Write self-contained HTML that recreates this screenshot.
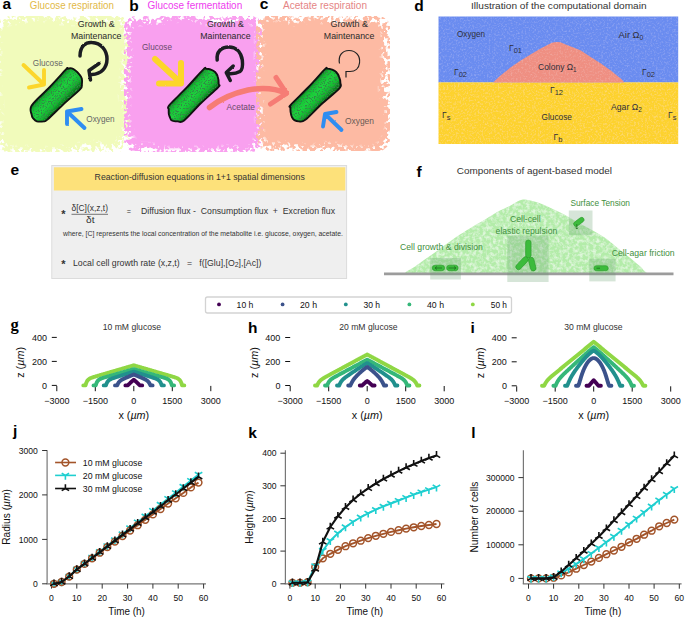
<!DOCTYPE html>
<html><head><meta charset="utf-8"><style>
html,body{margin:0;padding:0;background:#fff;overflow:hidden;width:685px;height:617px;}
svg{display:block;font-family:"Liberation Sans", sans-serif;}
</style></head><body>
<svg width="685" height="617" viewBox="0 0 685 617">
<rect width="685" height="617" fill="#fff"/>
<defs>
<linearGradient id="cellg2" x1="0.36" y1="0.36" x2="0.64" y2="0.64">
 <stop offset="0" stop-color="#0b7d1e"/><stop offset="0.2" stop-color="#17c034"/><stop offset="0.5" stop-color="#1dd23d"/><stop offset="0.8" stop-color="#15b930"/><stop offset="1" stop-color="#0a7a1c"/>
</linearGradient>
<linearGradient id="cellg" x1="0" y1="0" x2="0" y2="1">
 <stop offset="0" stop-color="#0a7a1c"/><stop offset="0.25" stop-color="#14b42e"/><stop offset="0.5" stop-color="#19c636"/><stop offset="0.75" stop-color="#12ad2b"/><stop offset="1" stop-color="#09721a"/>
</linearGradient>
<filter id="stip" x="-10%" y="-10%" width="120%" height="120%">
 <feTurbulence type="fractalNoise" baseFrequency="0.7" numOctaves="2" seed="7" result="n"/>
 <feColorMatrix in="n" type="matrix" values="0 0 0 0 0.03  0 0 0 0 0.25  0 0 0 0 0.06  -7 0 0 0 3.45" result="d"/>
 <feComposite in="d" in2="SourceAlpha" operator="in" result="dd"/>
 <feMerge><feMergeNode in="SourceGraphic"/><feMergeNode in="dd"/></feMerge>
</filter>
<filter id="mottle" x="0" y="0" width="100%" height="100%">
 <feTurbulence type="fractalNoise" baseFrequency="0.3" numOctaves="3" seed="13" result="n"/>
 <feColorMatrix in="n" type="matrix" values="0 0 0 0 1  0 0 0 0 1  0 0 0 0 1  2.6 0 0 0 -1.05" result="m"/>
 <feComponentTransfer in="m" result="m2"><feFuncA type="linear" slope="0.55"/></feComponentTransfer>
 <feComposite in="m2" in2="SourceGraphic" operator="in" result="w"/>
 <feMerge><feMergeNode in="SourceGraphic"/><feMergeNode in="w"/></feMerge>
</filter>
<filter id="sprayA" x="-10%" y="-10%" width="120%" height="120%">
 <feTurbulence type="fractalNoise" baseFrequency="0.05" numOctaves="2" seed="4" result="low"/>
 <feDisplacementMap in="SourceAlpha" in2="low" scale="16" xChannelSelector="R" yChannelSelector="G" result="d"/>
 <feGaussianBlur in="d" stdDeviation="7.5" result="b"/>
 <feTurbulence type="fractalNoise" baseFrequency="0.25" numOctaves="3" seed="3" result="n"/>
 <feColorMatrix in="n" type="matrix" values="0 0 0 0 0  0 0 0 0 0  0 0 0 0 0  3.5 0 0 0 -1.2" result="na"/>
 <feComposite in="b" in2="na" operator="arithmetic" k1="0" k2="1" k3="-0.55" k4="0" result="c"/>
 <feComponentTransfer in="c" result="m"><feFuncA type="linear" slope="5" intercept="-0.8"/></feComponentTransfer>
 <feComposite in="SourceGraphic" in2="m" operator="in"/>
</filter>
<filter id="sprayB" x="-10%" y="-10%" width="120%" height="120%">
 <feTurbulence type="fractalNoise" baseFrequency="0.05" numOctaves="2" seed="12" result="low"/>
 <feDisplacementMap in="SourceAlpha" in2="low" scale="16" xChannelSelector="R" yChannelSelector="G" result="d"/>
 <feGaussianBlur in="d" stdDeviation="7.5" result="b"/>
 <feTurbulence type="fractalNoise" baseFrequency="0.25" numOctaves="3" seed="11" result="n"/>
 <feColorMatrix in="n" type="matrix" values="0 0 0 0 0  0 0 0 0 0  0 0 0 0 0  3.5 0 0 0 -1.2" result="na"/>
 <feComposite in="b" in2="na" operator="arithmetic" k1="0" k2="1" k3="-0.55" k4="0" result="c"/>
 <feComponentTransfer in="c" result="m"><feFuncA type="linear" slope="5" intercept="-0.8"/></feComponentTransfer>
 <feComposite in="SourceGraphic" in2="m" operator="in"/>
</filter>
<filter id="sprayC" x="-10%" y="-10%" width="120%" height="120%">
 <feTurbulence type="fractalNoise" baseFrequency="0.05" numOctaves="2" seed="22" result="low"/>
 <feDisplacementMap in="SourceAlpha" in2="low" scale="16" xChannelSelector="R" yChannelSelector="G" result="d"/>
 <feGaussianBlur in="d" stdDeviation="7.5" result="b"/>
 <feTurbulence type="fractalNoise" baseFrequency="0.25" numOctaves="3" seed="21" result="n"/>
 <feColorMatrix in="n" type="matrix" values="0 0 0 0 0  0 0 0 0 0  0 0 0 0 0  3.5 0 0 0 -1.2" result="na"/>
 <feComposite in="b" in2="na" operator="arithmetic" k1="0" k2="1" k3="-0.55" k4="0" result="c"/>
 <feComponentTransfer in="c" result="m"><feFuncA type="linear" slope="5" intercept="-0.8"/></feComponentTransfer>
 <feComposite in="SourceGraphic" in2="m" operator="in"/>
</filter>
<filter id="rough" x="-10%" y="-10%" width="120%" height="120%">
 <feTurbulence type="fractalNoise" baseFrequency="0.18" numOctaves="3" seed="4" result="n"/>
 <feDisplacementMap in="SourceGraphic" in2="n" scale="9" xChannelSelector="R" yChannelSelector="G"/>
</filter>
<filter id="rough2" x="-10%" y="-10%" width="120%" height="120%">
 <feTurbulence type="fractalNoise" baseFrequency="0.22" numOctaves="3" seed="9" result="n"/>
 <feDisplacementMap in="SourceGraphic" in2="n" scale="10" xChannelSelector="R" yChannelSelector="G"/>
</filter>
<filter id="rough3" x="-10%" y="-10%" width="120%" height="120%">
 <feTurbulence type="fractalNoise" baseFrequency="0.2" numOctaves="3" seed="17" result="n"/>
 <feDisplacementMap in="SourceGraphic" in2="n" scale="10" xChannelSelector="R" yChannelSelector="G"/>
</filter>
<filter id="brush" x="-20%" y="-20%" width="140%" height="140%">
 <feTurbulence type="fractalNoise" baseFrequency="0.6" numOctaves="2" seed="2" result="n"/>
 <feDisplacementMap in="SourceGraphic" in2="n" scale="1.6" xChannelSelector="R" yChannelSelector="G"/>
</filter>
<filter id="speck" x="0" y="0" width="100%" height="100%">
 <feTurbulence type="fractalNoise" baseFrequency="0.55" numOctaves="2" seed="5" result="n"/>
 <feColorMatrix in="n" type="matrix" values="0 0 0 0 1  0 0 0 0 1  0 0 0 0 1  0 0 0 -2.5 1.3" result="m"/>
 <feComponentTransfer in="m" result="m2"><feFuncA type="linear" slope="0.16"/></feComponentTransfer>
 <feComposite in="m2" in2="SourceGraphic" operator="in" result="w"/>
 <feMerge><feMergeNode in="SourceGraphic"/><feMergeNode in="w"/></feMerge>
</filter>
</defs>
<rect x="-4" y="16" width="134" height="136" rx="12" fill="#f1fbbb" filter="url(#sprayA)"/>
<rect x="124" y="16" width="139" height="136" rx="12" fill="#f9a0ef" filter="url(#sprayB)"/>
<rect x="256" y="16" width="134" height="135" rx="12" fill="#fdbaa3" filter="url(#sprayC)"/>
<text x="2.5" y="9.4" font-size="15.5" font-weight="700" fill="#000">a</text>
<text x="29.8" y="8.9" font-size="10.3" fill="#e2b947" font-weight="400" textLength="84.2" lengthAdjust="spacingAndGlyphs" >Glucose respiration</text>
<text x="129.3" y="11.1" font-size="15.5" font-weight="700" fill="#000">b</text>
<text x="147.6" y="8.9" font-size="10.3" fill="#ee3cee" font-weight="400" textLength="94.6" lengthAdjust="spacingAndGlyphs" >Glucose fermentation</text>
<text x="259.8" y="9.4" font-size="15.5" font-weight="700" fill="#000">c</text>
<text x="283.0" y="8.9" font-size="10.3" fill="#e58585" font-weight="400" textLength="84.0" lengthAdjust="spacingAndGlyphs" >Acetate respiration</text>
<text x="414.3" y="11.4" font-size="15.5" font-weight="700" fill="#000">d</text>
<text x="471.0" y="9.0" font-size="9.5" fill="#333" font-weight="400" textLength="175.6" lengthAdjust="spacingAndGlyphs" >Illustration of the computational domain</text>
<text x="77.8" y="27.3" font-size="9" fill="#2a2a2a" font-weight="400" textLength="36.9" lengthAdjust="spacingAndGlyphs" >Growth &amp;</text>
<text x="71.0" y="39.2" font-size="9" fill="#2a2a2a" font-weight="400" textLength="50.5" lengthAdjust="spacingAndGlyphs" >Maintenance</text>
<text x="32.8" y="65.6" font-size="9" fill="#666" font-weight="400" textLength="30.0" lengthAdjust="spacingAndGlyphs" >Glucose</text>
<text x="86.3" y="122.2" font-size="9" fill="#666" font-weight="400" textLength="28.3" lengthAdjust="spacingAndGlyphs" >Oxygen</text>
<path d="M67.0,68.7 C68.0,68.5 70.4,68.1 71.8,68.4 C73.2,68.8 74.1,69.5 75.4,70.6 C76.8,71.6 78.6,73.5 79.7,74.8 C80.8,76.2 81.4,77.0 81.8,78.5 C82.2,80.1 82.2,82.4 81.9,84.3 C81.6,86.1 83.0,86.1 80.0,89.4 C76.9,92.7 69.0,99.1 63.6,104.1 C58.2,109.2 50.7,116.8 47.4,119.6 C44.1,122.5 45.7,121.1 43.9,121.4 C42.2,121.6 38.6,121.8 36.8,121.3 C35.0,120.8 34.0,119.3 33.2,118.3 C32.4,117.3 32.1,117.4 31.8,115.3 C31.6,113.2 28.8,110.2 31.7,105.5 C34.6,100.9 43.6,93.5 49.3,87.5 C55.0,81.5 63.1,72.5 66.0,69.4 C69.0,66.3 66.0,68.9 67.0,68.7 Z" fill="url(#cellg2)" filter="url(#stip)"/>
<path d="M67.0,68.7 C68.0,68.5 70.4,68.1 71.8,68.4 C73.2,68.8 74.1,69.5 75.4,70.6 C76.8,71.6 78.6,73.5 79.7,74.8 C80.8,76.2 81.4,77.0 81.8,78.5 C82.2,80.1 82.2,82.4 81.9,84.3 C81.6,86.1 83.0,86.1 80.0,89.4 C76.9,92.7 69.0,99.1 63.6,104.1 C58.2,109.2 50.7,116.8 47.4,119.6 C44.1,122.5 45.7,121.1 43.9,121.4 C42.2,121.6 38.6,121.8 36.8,121.3 C35.0,120.8 34.0,119.3 33.2,118.3 C32.4,117.3 32.1,117.4 31.8,115.3 C31.6,113.2 28.8,110.2 31.7,105.5 C34.6,100.9 43.6,93.5 49.3,87.5 C55.0,81.5 63.1,72.5 66.0,69.4 C69.0,66.3 66.0,68.9 67.0,68.7 Z" fill="none" stroke="#111" stroke-width="1.9" stroke-linejoin="round"/>
<g stroke="#fcd62a" stroke-width="3.9" fill="none" stroke-linecap="round" stroke-linejoin="round" filter="url(#brush)"><path d="M23.5,65 L44,84.5 M44,70 L44,84.5 L29,87.5"/></g>
<g stroke="#2f8df2" stroke-width="3.9" fill="none" stroke-linecap="round" stroke-linejoin="round" filter="url(#brush)"><path d="M84.5,128 L67,111.5 M81.5,109 L67,111.5 L67,124"/></g>
<g stroke="#1a1f22" stroke-width="3.5" fill="none" stroke-linecap="round" stroke-linejoin="round" filter="url(#brush)"><path d="M80,56 C80,46 86,42 92,42.5 C101,43 107,50 107,59 C107,68 101,74 92,74.5 M99,63.5 L89,70.5 L90.5,80"/></g>
<text x="142.0" y="50.2" font-size="9" fill="#6a4a6a" font-weight="400" textLength="30.0" lengthAdjust="spacingAndGlyphs" >Glucose</text>
<text x="207.0" y="26.8" font-size="9" fill="#2a2a2a" font-weight="400" textLength="36.8" lengthAdjust="spacingAndGlyphs" >Growth &amp;</text>
<text x="200.3" y="39.2" font-size="9" fill="#2a2a2a" font-weight="400" textLength="50.3" lengthAdjust="spacingAndGlyphs" >Maintenance</text>
<text x="226.5" y="110.0" font-size="9" fill="#6a4a6a" font-weight="400" textLength="28.5" lengthAdjust="spacingAndGlyphs" >Acetate</text>
<path d="M206.1,68.8 C207.4,68.8 209.5,69.0 211.0,69.6 C212.4,70.1 213.8,70.8 215.0,72.0 C216.1,73.2 217.1,74.5 217.7,76.6 C218.4,78.6 218.7,82.4 218.7,84.2 C218.8,86.0 221.1,84.1 218.1,87.3 C215.1,90.5 206.5,97.8 200.8,103.3 C195.2,108.8 188.0,117.4 184.1,120.4 C180.2,123.4 179.3,121.3 177.5,121.4 C175.7,121.4 174.2,121.1 173.1,120.8 C172.0,120.4 171.5,120.5 170.8,119.4 C170.2,118.3 169.3,116.1 168.9,114.4 C168.6,112.8 168.7,111.0 168.7,109.4 C168.8,107.9 166.4,108.7 169.4,105.0 C172.4,101.4 180.9,93.7 186.6,87.7 C192.3,81.8 200.1,72.5 203.4,69.4 C206.6,66.2 204.8,68.7 206.1,68.8 Z" fill="url(#cellg2)" filter="url(#stip)"/>
<path d="M206.1,68.8 C207.4,68.8 209.5,69.0 211.0,69.6 C212.4,70.1 213.8,70.8 215.0,72.0 C216.1,73.2 217.1,74.5 217.7,76.6 C218.4,78.6 218.7,82.4 218.7,84.2 C218.8,86.0 221.1,84.1 218.1,87.3 C215.1,90.5 206.5,97.8 200.8,103.3 C195.2,108.8 188.0,117.4 184.1,120.4 C180.2,123.4 179.3,121.3 177.5,121.4 C175.7,121.4 174.2,121.1 173.1,120.8 C172.0,120.4 171.5,120.5 170.8,119.4 C170.2,118.3 169.3,116.1 168.9,114.4 C168.6,112.8 168.7,111.0 168.7,109.4 C168.8,107.9 166.4,108.7 169.4,105.0 C172.4,101.4 180.9,93.7 186.6,87.7 C192.3,81.8 200.1,72.5 203.4,69.4 C206.6,66.2 204.8,68.7 206.1,68.8 Z" fill="none" stroke="#111" stroke-width="1.9" stroke-linejoin="round"/>
<g stroke="#fcd62a" stroke-width="6" fill="none" stroke-linecap="round" stroke-linejoin="round" filter="url(#brush)"><path d="M155,59 L181,83 M181,63 L181,83.5 L159,83.5"/></g>
<g stroke="#1a1f22" stroke-width="3.5" fill="none" stroke-linecap="round" stroke-linejoin="round" filter="url(#brush)"><path d="M217.2,60 C216.2,52 221,46.9 229,46.9 C236,47 241,52 242.3,60 C243,66 242.2,70 239.9,71.6 C236.5,73.6 231.5,74 227.5,73.6 M233.2,66 L226.3,72.6 L230.3,80.5"/></g>
<path d="M209.5,107.5 C220,99 232,93.5 248,90 C260,87.8 274,87.8 286,93.2" stroke="#f67c74" stroke-width="5.5" fill="none" stroke-linecap="round" filter="url(#brush)"/>
<path d="M276,77.5 L286.5,93.4 L270.5,104" stroke="#f67c74" stroke-width="5" fill="none" stroke-linecap="round" stroke-linejoin="round" filter="url(#brush)"/>
<text x="330.5" y="27.1" font-size="9" fill="#2a2a2a" font-weight="400" textLength="37.5" lengthAdjust="spacingAndGlyphs" >Growth &amp;</text>
<text x="323.8" y="39.3" font-size="9" fill="#2a2a2a" font-weight="400" textLength="50.6" lengthAdjust="spacingAndGlyphs" >Maintenance</text>
<text x="344.9" y="124.0" font-size="9" fill="#6a5a55" font-weight="400" textLength="29.1" lengthAdjust="spacingAndGlyphs" >Oxygen</text>
<path d="M327.3,68.6 C328.5,68.6 330.5,69.0 332.0,69.6 C333.4,70.2 334.9,70.8 336.1,72.0 C337.2,73.2 338.3,74.7 339.0,76.6 C339.8,78.4 340.4,81.1 340.4,83.1 C340.5,85.1 342.3,85.2 339.2,88.6 C336.1,92.1 327.5,98.6 321.9,103.8 C316.2,109.0 309.2,116.9 305.3,119.8 C301.5,122.7 300.5,121.3 298.7,121.4 C296.9,121.4 295.5,120.8 294.4,120.1 C293.3,119.4 292.6,118.6 292.0,117.2 C291.3,115.9 290.8,113.6 290.6,112.0 C290.3,110.3 290.4,108.5 290.4,107.3 C290.5,106.1 287.8,108.1 290.8,104.8 C293.7,101.5 302.4,93.4 308.1,87.5 C313.8,81.6 321.6,72.5 324.8,69.4 C328.0,66.2 326.1,68.5 327.3,68.6 Z" fill="url(#cellg2)" filter="url(#stip)"/>
<path d="M327.3,68.6 C328.5,68.6 330.5,69.0 332.0,69.6 C333.4,70.2 334.9,70.8 336.1,72.0 C337.2,73.2 338.3,74.7 339.0,76.6 C339.8,78.4 340.4,81.1 340.4,83.1 C340.5,85.1 342.3,85.2 339.2,88.6 C336.1,92.1 327.5,98.6 321.9,103.8 C316.2,109.0 309.2,116.9 305.3,119.8 C301.5,122.7 300.5,121.3 298.7,121.4 C296.9,121.4 295.5,120.8 294.4,120.1 C293.3,119.4 292.6,118.6 292.0,117.2 C291.3,115.9 290.8,113.6 290.6,112.0 C290.3,110.3 290.4,108.5 290.4,107.3 C290.5,106.1 287.8,108.1 290.8,104.8 C293.7,101.5 302.4,93.4 308.1,87.5 C313.8,81.6 321.6,72.5 324.8,69.4 C328.0,66.2 326.1,68.5 327.3,68.6 Z" fill="none" stroke="#111" stroke-width="1.9" stroke-linejoin="round"/>
<path d="M339.5,63.5 C338,56 342,50.5 349,50.5 C356,50.5 360.5,56 359.5,63 C359,68.5 355,71.5 350,71.5 L346,71.5 L346,77.5" stroke="#222" stroke-width="1.2" fill="none"/>
<g stroke="#2f8df2" stroke-width="3.9" fill="none" stroke-linecap="round" stroke-linejoin="round" filter="url(#brush)"><path d="M341.5,130 L325,114 M336.5,112 L325,114 L323,126.5"/></g>
<g filter="url(#speck)"><rect x="438.5" y="16.5" width="239.7" height="66" fill="#6a8cf0"/><rect x="438.5" y="82.4" width="239.7" height="61.6" fill="#fdd22e"/><path d="M493.2,82.6 L494.1,81.4 L500.2,75.8 L510.4,67.6 L520.7,60.5 L530.9,54.3 L541.1,48.2 L546.5,45.4 L551.3,43.1 L554,42.3 L557.5,41.9 L560.5,42.3 L565,44.2 L570.2,46.2 L580.4,50.3 L590.7,56.9 L600.9,63.5 L611.1,70.7 L617.2,75.8 L621.3,78.9 L624.4,82.6 Z" fill="#ef8f82"/></g>
<text x="457.0" y="37.4" font-size="8.8" fill="#2f2f3a" font-weight="400" textLength="28.1" lengthAdjust="spacingAndGlyphs" >Oxygen</text>
<text x="509" y="50.5" font-size="8.5" fill="#2f2f3a">Γ<tspan dy="2" font-size="7.5">01</tspan></text>
<text x="454" y="74.5" font-size="8.5" fill="#2f2f3a">Γ<tspan dy="2" font-size="7.5">02</tspan></text>
<text x="538" y="69.8" font-size="8.8" fill="#2f2f3a" textLength="38.6" lengthAdjust="spacingAndGlyphs">Colony Ω<tspan dy="2" font-size="6.5">1</tspan></text>
<text x="618.6" y="37.6" font-size="8.8" fill="#2f2f3a" textLength="24.8" lengthAdjust="spacingAndGlyphs">Air Ω<tspan dy="2" font-size="6.5">0</tspan></text>
<text x="642" y="74.5" font-size="8.5" fill="#2f2f3a">Γ<tspan dy="2" font-size="7.5">02</tspan></text>
<text x="550" y="92.5" font-size="8.5" fill="#2f2f3a">Γ<tspan dy="2" font-size="7.5">12</tspan></text>
<text x="611" y="109.5" font-size="8.8" fill="#2f2f3a" textLength="30.7" lengthAdjust="spacingAndGlyphs">Agar Ω<tspan dy="2" font-size="6.5">2</tspan></text>
<text x="541.5" y="120.0" font-size="8.8" fill="#2f2f3a" font-weight="400" textLength="30.5" lengthAdjust="spacingAndGlyphs" >Glucose</text>
<text x="442" y="117.5" font-size="8.5" fill="#2f2f3a">Γ<tspan dy="2" font-size="7.5">s</tspan></text>
<text x="668" y="117.5" font-size="8.5" fill="#2f2f3a">Γ<tspan dy="2" font-size="7.5">s</tspan></text>
<text x="553.5" y="139.5" font-size="8.5" fill="#2f2f3a">Γ<tspan dy="2" font-size="7.5">b</tspan></text>
<text x="10.5" y="175.1" font-size="15.5" font-weight="700" fill="#000">e</text>
<rect x="51.8" y="165.5" width="294.8" height="113" fill="#efefef" stroke="#dcdcdc" stroke-width="1"/>
<rect x="53.9" y="167.3" width="291.4" height="23.2" fill="#fde17a"/>
<text x="94.6" y="180.3" font-size="9" fill="#333" font-weight="400" textLength="210.2" lengthAdjust="spacingAndGlyphs" >Reaction-diffusion equations in 1+1 spatial dimensions</text>
<text x="61.2" y="218.3" font-size="11" font-weight="700" fill="#333">*</text>
<text x="71.5" y="211.3" font-size="8.5" fill="#333" font-weight="400" textLength="36.5" lengthAdjust="spacingAndGlyphs" >δ[C](x,z,t)</text>
<line x1="71.5" y1="214.3" x2="108" y2="214.3" stroke="#555" stroke-width="0.8"/>
<text x="86.0" y="223.2" font-size="8.5" fill="#333" font-weight="400" textLength="8.5" lengthAdjust="spacingAndGlyphs" >δt</text>
<text x="126.8" y="213.5" font-size="8.5" fill="#333" font-weight="400" textLength="4.2" lengthAdjust="spacingAndGlyphs" >=</text>
<text x="141.0" y="213.8" font-size="8.8" fill="#333" font-weight="400" textLength="194.0" lengthAdjust="spacingAndGlyphs" xml:space="preserve">Diffusion flux -&#160; Consumption flux&#160; +&#160; Excretion flux</text>
<text x="63.0" y="236.2" font-size="6.3" fill="#333" font-weight="400" textLength="280.0" lengthAdjust="spacingAndGlyphs" >where, [C] represents the local concentration of the metabolite i.e. glucose, oxygen, acetate.</text>
<text x="61.2" y="268.2" font-size="11" font-weight="700" fill="#333">*</text>
<text x="73.0" y="265.8" font-size="8.8" fill="#333" font-weight="400" textLength="188.4" lengthAdjust="spacingAndGlyphs" >Local cell growth rate (x,z,t)&#160;&#160; =&#160;&#160; f([Glu],[O<tspan dy="1.5" font-size="7">2</tspan><tspan dy="-1.5">],[Ac])</tspan></text>
<text x="416.5" y="176.9" font-size="15.5" font-weight="700" fill="#000">f</text>
<text x="456.8" y="173.5" font-size="9.5" fill="#333" font-weight="400" textLength="155.2" lengthAdjust="spacingAndGlyphs" >Components of agent-based model</text>
<g filter="url(#mottle)"><path d="M404.0,274.0 C404.5,273.5 405.5,272.2 407.0,271.2 C408.5,270.2 410.6,269.4 413.1,267.8 C415.6,266.2 419.0,263.6 421.9,261.5 C424.8,259.4 427.6,257.5 430.6,255.4 C433.6,253.3 436.8,251.0 440.0,248.7 C443.2,246.4 446.7,244.0 450.0,241.6 C453.3,239.2 456.2,237.0 460.0,234.5 C463.8,232.0 468.7,229.0 473.0,226.4 C477.3,223.8 481.4,221.6 485.9,218.9 C490.4,216.2 496.0,212.7 500.0,210.5 C504.0,208.3 507.0,207.3 509.7,205.9 C512.4,204.5 514.0,203.2 516.2,202.2 C518.4,201.1 520.5,199.9 522.7,199.6 C524.9,199.3 526.3,199.6 529.2,200.2 C532.1,200.8 536.2,201.8 540.0,203.2 C543.8,204.6 548.2,206.9 552.2,208.8 C556.2,210.7 560.2,212.4 564.3,214.6 C568.3,216.8 572.2,219.3 576.5,221.7 C580.8,224.1 585.3,226.4 590.0,229.0 C594.7,231.6 600.6,234.8 604.6,237.5 C608.6,240.2 611.1,242.7 614.3,245.3 C617.5,247.9 620.8,250.5 624.0,253.1 C627.2,255.7 631.0,258.6 633.8,260.9 C636.6,263.2 638.9,265.1 640.6,266.7 C642.3,268.3 642.8,269.4 644.0,270.6 C645.2,271.8 647.3,273.4 648.0,274.0 Z" fill="#b3eca9"/></g>
<line x1="384" y1="273.9" x2="673.5" y2="273.9" stroke="#9c9c9c" stroke-width="2.6"/>
<rect x="430.2" y="258" width="30.7" height="21.5" fill="#5f9a68" opacity="0.26"/>
<rect x="507.3" y="235.5" width="41.3" height="46.5" fill="#5f9a68" opacity="0.26"/>
<rect x="568.8" y="210.5" width="23.7" height="24.7" fill="#5f9a68" opacity="0.26"/>
<rect x="589.3" y="258.8" width="26.3" height="22.6" fill="#5f9a68" opacity="0.26"/>
<g transform="translate(438.5,268.0) rotate(0.0)"><rect x="-6.2" y="-2.8" width="12.3" height="5.5" rx="2.8" fill="#3cbb3c" stroke="#2a9a2a" stroke-width="0.6"/></g>
<g transform="translate(452.4,268.0) rotate(0.0)"><rect x="-5.8" y="-2.8" width="11.6" height="5.5" rx="2.8" fill="#3cbb3c" stroke="#2a9a2a" stroke-width="0.6"/></g>
<path d="M442,268 L435,268 M437,266.5 L435,268 L437,269.5 M448.5,268 L456,268 M454,266.5 L456,268 L454,269.5" stroke="#1d6b1d" stroke-width="0.7" fill="none"/>
<g transform="translate(528.3,249.0) rotate(90.0)"><rect x="-9.0" y="-2.8" width="18.0" height="5.5" rx="2.8" fill="#3cbb3c" stroke="#2a9a2a" stroke-width="0.6"/></g>
<g transform="translate(522.1,263.2) rotate(-47.1)"><rect x="-7.9" y="-2.8" width="15.7" height="5.5" rx="2.8" fill="#3cbb3c" stroke="#2a9a2a" stroke-width="0.6"/></g>
<g transform="translate(532.2,264.2) rotate(75.9)"><rect x="-7.0" y="-2.8" width="13.9" height="5.5" rx="2.8" fill="#3cbb3c" stroke="#2a9a2a" stroke-width="0.6"/></g>
<g transform="translate(578.8,221.9) rotate(-36.8)"><rect x="-5.9" y="-2.4" width="11.9" height="4.8" rx="2.4" fill="#3cbb3c" stroke="#2a9a2a" stroke-width="0.6"/></g>
<path d="M576.8,224 L576.8,229 M575.5,227.6 L576.8,229 L578.1,227.6" stroke="#1d6b1d" stroke-width="0.7" fill="none"/>
<g transform="translate(601.1,268.2) rotate(0.0)"><rect x="-7.1" y="-2.5" width="14.2" height="5.0" rx="2.5" fill="#3cbb3c" stroke="#2a9a2a" stroke-width="0.6"/></g>
<path d="M600,268.2 L596.5,268.2" stroke="#1d6b1d" stroke-width="0.8"/>
<text x="400.0" y="249.9" font-size="9" fill="#3f8f40" font-weight="400" textLength="82.8" lengthAdjust="spacingAndGlyphs" >Cell growth &amp; division</text>
<text x="510.0" y="221.6" font-size="9" fill="#3f8f40" font-weight="400" textLength="30.7" lengthAdjust="spacingAndGlyphs" >Cell-cell</text>
<text x="495.6" y="233.7" font-size="9" fill="#3f8f40" font-weight="400" textLength="61.7" lengthAdjust="spacingAndGlyphs" >elastic repulsion</text>
<text x="570.4" y="205.8" font-size="9" fill="#3f8f40" font-weight="400" textLength="59.6" lengthAdjust="spacingAndGlyphs" >Surface Tension</text>
<text x="611.7" y="255.6" font-size="9" fill="#3f8f40" font-weight="400" textLength="63.0" lengthAdjust="spacingAndGlyphs" >Cell-agar friction</text>
<rect x="205.5" y="297" width="306" height="16" rx="2" fill="#fff" stroke="#d3d3d3" stroke-width="1.3"/>
<circle cx="219" cy="304.4" r="1.9" fill="#440154"/>
<text x="236.6" y="307.9" font-size="9" fill="#111" font-weight="400" textLength="16.8" lengthAdjust="spacingAndGlyphs" >10 h</text>
<circle cx="282.6" cy="304.4" r="1.9" fill="#3b528b"/>
<text x="300.0" y="307.9" font-size="9" fill="#111" font-weight="400" textLength="17.0" lengthAdjust="spacingAndGlyphs" >20 h</text>
<circle cx="345.8" cy="304.4" r="1.9" fill="#21908d"/>
<text x="363.4" y="307.9" font-size="9" fill="#111" font-weight="400" textLength="16.6" lengthAdjust="spacingAndGlyphs" >30 h</text>
<circle cx="409.4" cy="304.4" r="1.9" fill="#35b779"/>
<text x="427.0" y="307.9" font-size="9" fill="#111" font-weight="400" textLength="17.0" lengthAdjust="spacingAndGlyphs" >40 h</text>
<circle cx="472.8" cy="304.4" r="1.9" fill="#8fd744"/>
<text x="490.8" y="307.9" font-size="9" fill="#111" font-weight="400" textLength="16.2" lengthAdjust="spacingAndGlyphs" >50 h</text>
<line x1="51.80000000000001" y1="385.4" x2="56.80000000000001" y2="385.4" stroke="#111" stroke-width="1"/>
<text x="47.0" y="388.6" font-size="9" fill="#111" font-weight="400" text-anchor="end" >0</text>
<line x1="51.80000000000001" y1="361.4" x2="56.80000000000001" y2="361.4" stroke="#111" stroke-width="1"/>
<text x="47.0" y="364.6" font-size="9" fill="#111" font-weight="400" text-anchor="end" >200</text>
<line x1="51.80000000000001" y1="337.4" x2="56.80000000000001" y2="337.4" stroke="#111" stroke-width="1"/>
<text x="47.0" y="340.6" font-size="9" fill="#111" font-weight="400" text-anchor="end" >400</text>
<line x1="56.8" y1="385.9" x2="56.8" y2="391.2" stroke="#111" stroke-width="1"/>
<text x="56.8" y="403.6" font-size="9" fill="#111" font-weight="400" text-anchor="middle" >−3000</text>
<line x1="95.3" y1="385.9" x2="95.3" y2="391.2" stroke="#111" stroke-width="1"/>
<text x="95.3" y="403.6" font-size="9" fill="#111" font-weight="400" text-anchor="middle" >−1500</text>
<line x1="133.8" y1="385.9" x2="133.8" y2="391.2" stroke="#111" stroke-width="1"/>
<text x="133.8" y="403.6" font-size="9" fill="#111" font-weight="400" text-anchor="middle" >0</text>
<line x1="172.3" y1="385.9" x2="172.3" y2="391.2" stroke="#111" stroke-width="1"/>
<text x="172.3" y="403.6" font-size="9" fill="#111" font-weight="400" text-anchor="middle" >1500</text>
<line x1="210.8" y1="385.9" x2="210.8" y2="391.2" stroke="#111" stroke-width="1"/>
<text x="210.8" y="403.6" font-size="9" fill="#111" font-weight="400" text-anchor="middle" >3000</text>
<text x="133.8" y="418.7" font-size="10.8" fill="#111" font-weight="400" text-anchor="middle" >x (<tspan font-style="italic">µm</tspan>)</text>
<text transform="translate(24.10000000000001,362.4) rotate(-90)" font-size="10.8" fill="#111" text-anchor="middle">z (<tspan font-style="italic">µm</tspan>)</text>
<text x="102.7" y="329.8" font-size="8.6" fill="#333" font-weight="400" textLength="58.4" lengthAdjust="spacingAndGlyphs" >10 mM glucose</text>
<text x="10.4" y="329.6" font-size="16.5" font-weight="700" fill="#000" font-family="Liberation Serif">g</text>
<path d="M83.3,385.4 L85.50,385.40 L86.10,383.35 L86.71,381.89 L87.31,380.82 L87.92,380.04 L88.52,379.44 L89.12,378.97 L89.73,378.60 L90.33,378.29 L90.93,378.02 L91.54,377.78 L92.14,377.56 L92.75,377.35 L93.35,377.15 L93.95,376.96 L94.56,376.78 L95.16,376.59 L95.76,376.41 L96.37,376.23 L96.97,376.06 L97.58,375.88 L98.18,375.70 L98.78,375.52 L99.39,375.35 L99.99,375.17 L100.59,374.99 L101.20,374.82 L101.80,374.64 L102.41,374.47 L103.01,374.29 L103.61,374.11 L104.22,373.94 L104.82,373.76 L105.42,373.58 L106.03,373.41 L106.63,373.23 L107.24,373.06 L107.84,372.88 L108.44,372.70 L109.05,372.53 L109.65,372.35 L110.25,372.17 L110.86,372.00 L111.46,371.82 L112.07,371.65 L112.67,371.47 L113.27,371.29 L113.88,371.12 L114.48,370.94 L115.08,370.76 L115.69,370.59 L116.29,370.41 L116.90,370.24 L117.50,370.06 L118.10,369.88 L118.71,369.71 L119.31,369.53 L119.91,369.35 L120.52,369.18 L121.12,369.00 L121.73,368.83 L122.33,368.65 L122.93,368.47 L123.54,368.30 L124.14,368.12 L124.74,367.94 L125.35,367.77 L125.95,367.59 L126.56,367.42 L127.16,367.24 L127.76,367.06 L128.37,366.89 L128.97,366.71 L129.57,366.53 L130.18,366.36 L130.78,366.18 L131.39,366.01 L131.99,365.83 L132.59,365.65 L133.20,365.48 L133.80,365.30 L134.40,365.48 L135.01,365.65 L135.61,365.83 L136.22,366.01 L136.82,366.18 L137.42,366.36 L138.03,366.53 L138.63,366.71 L139.23,366.89 L139.84,367.06 L140.44,367.24 L141.05,367.42 L141.65,367.59 L142.25,367.77 L142.86,367.94 L143.46,368.12 L144.06,368.30 L144.67,368.47 L145.27,368.65 L145.88,368.83 L146.48,369.00 L147.08,369.18 L147.69,369.35 L148.29,369.53 L148.89,369.71 L149.50,369.88 L150.10,370.06 L150.71,370.24 L151.31,370.41 L151.91,370.59 L152.52,370.76 L153.12,370.94 L153.72,371.12 L154.33,371.29 L154.93,371.47 L155.53,371.65 L156.14,371.82 L156.74,372.00 L157.35,372.17 L157.95,372.35 L158.55,372.53 L159.16,372.70 L159.76,372.88 L160.37,373.06 L160.97,373.23 L161.57,373.41 L162.18,373.58 L162.78,373.76 L163.38,373.94 L163.99,374.11 L164.59,374.29 L165.19,374.47 L165.80,374.64 L166.40,374.82 L167.01,374.99 L167.61,375.17 L168.21,375.35 L168.82,375.52 L169.42,375.70 L170.03,375.88 L170.63,376.06 L171.23,376.23 L171.84,376.41 L172.44,376.59 L173.04,376.78 L173.65,376.96 L174.25,377.15 L174.86,377.35 L175.46,377.56 L176.06,377.78 L176.67,378.02 L177.27,378.29 L177.87,378.60 L178.48,378.97 L179.08,379.44 L179.69,380.04 L180.29,380.82 L180.89,381.89 L181.50,383.35 L182.10,385.40 L184.3,385.4" stroke="#8fd744" stroke-width="3.9" fill="none" stroke-linecap="round" stroke-linejoin="round"/>
<path d="M93.5,385.4 L95.70,385.40 L96.18,383.87 L96.65,382.69 L97.13,381.77 L97.61,381.06 L98.08,380.49 L98.56,380.03 L99.03,379.65 L99.51,379.34 L99.99,379.07 L100.46,378.84 L100.94,378.63 L101.42,378.44 L101.89,378.26 L102.37,378.10 L102.84,377.94 L103.32,377.79 L103.80,377.64 L104.27,377.50 L104.75,377.35 L105.23,377.21 L105.70,377.08 L106.18,376.94 L106.65,376.80 L107.13,376.66 L107.61,376.53 L108.08,376.39 L108.56,376.26 L109.04,376.12 L109.51,375.99 L109.99,375.85 L110.46,375.72 L110.94,375.58 L111.42,375.45 L111.89,375.31 L112.37,375.18 L112.85,375.04 L113.32,374.91 L113.80,374.77 L114.27,374.64 L114.75,374.50 L115.23,374.37 L115.70,374.23 L116.18,374.10 L116.66,373.96 L117.13,373.83 L117.61,373.69 L118.08,373.56 L118.56,373.42 L119.04,373.29 L119.51,373.15 L119.99,373.02 L120.47,372.88 L120.94,372.75 L121.42,372.61 L121.89,372.48 L122.37,372.34 L122.85,372.21 L123.32,372.07 L123.80,371.94 L124.28,371.80 L124.75,371.67 L125.23,371.53 L125.70,371.40 L126.18,371.26 L126.66,371.13 L127.13,370.99 L127.61,370.86 L128.09,370.72 L128.56,370.59 L129.04,370.45 L129.51,370.32 L129.99,370.18 L130.47,370.05 L130.94,369.91 L131.42,369.78 L131.90,369.64 L132.37,369.51 L132.85,369.37 L133.32,369.24 L133.80,369.10 L134.28,369.24 L134.75,369.37 L135.23,369.51 L135.71,369.64 L136.18,369.78 L136.66,369.91 L137.13,370.05 L137.61,370.18 L138.09,370.32 L138.56,370.45 L139.04,370.59 L139.52,370.72 L139.99,370.86 L140.47,370.99 L140.94,371.13 L141.42,371.26 L141.90,371.40 L142.37,371.53 L142.85,371.67 L143.33,371.80 L143.80,371.94 L144.28,372.07 L144.75,372.21 L145.23,372.34 L145.71,372.48 L146.18,372.61 L146.66,372.75 L147.14,372.88 L147.61,373.02 L148.09,373.15 L148.56,373.29 L149.04,373.42 L149.52,373.56 L149.99,373.69 L150.47,373.83 L150.95,373.96 L151.42,374.10 L151.90,374.23 L152.37,374.37 L152.85,374.50 L153.33,374.64 L153.80,374.77 L154.28,374.91 L154.76,375.04 L155.23,375.18 L155.71,375.31 L156.18,375.45 L156.66,375.58 L157.14,375.72 L157.61,375.85 L158.09,375.99 L158.56,376.12 L159.04,376.26 L159.52,376.39 L159.99,376.53 L160.47,376.66 L160.95,376.80 L161.42,376.94 L161.90,377.08 L162.38,377.21 L162.85,377.35 L163.33,377.50 L163.80,377.64 L164.28,377.79 L164.76,377.94 L165.23,378.10 L165.71,378.26 L166.19,378.44 L166.66,378.63 L167.14,378.84 L167.61,379.07 L168.09,379.34 L168.57,379.65 L169.04,380.03 L169.52,380.49 L170.00,381.06 L170.47,381.77 L170.95,382.69 L171.42,383.87 L171.90,385.40 L174.1,385.4" stroke="#35b779" stroke-width="3.9" fill="none" stroke-linecap="round" stroke-linejoin="round"/>
<path d="M103.7,385.4 L105.90,385.40 L106.25,384.34 L106.60,383.46 L106.95,382.72 L107.30,382.11 L107.64,381.59 L107.99,381.14 L108.34,380.76 L108.69,380.44 L109.04,380.15 L109.39,379.90 L109.74,379.67 L110.09,379.47 L110.43,379.28 L110.78,379.11 L111.13,378.95 L111.48,378.80 L111.83,378.66 L112.18,378.53 L112.53,378.40 L112.88,378.27 L113.22,378.15 L113.57,378.02 L113.92,377.91 L114.27,377.79 L114.62,377.67 L114.97,377.56 L115.32,377.44 L115.67,377.33 L116.01,377.22 L116.36,377.11 L116.71,377.00 L117.06,376.89 L117.41,376.77 L117.76,376.66 L118.11,376.55 L118.46,376.44 L118.80,376.33 L119.15,376.22 L119.50,376.11 L119.85,376.00 L120.20,375.89 L120.55,375.78 L120.90,375.67 L121.25,375.56 L121.59,375.45 L121.94,375.34 L122.29,375.23 L122.64,375.12 L122.99,375.01 L123.34,374.90 L123.69,374.79 L124.04,374.68 L124.38,374.57 L124.73,374.46 L125.08,374.35 L125.43,374.24 L125.78,374.13 L126.13,374.02 L126.48,373.91 L126.83,373.80 L127.17,373.69 L127.52,373.58 L127.87,373.47 L128.22,373.36 L128.57,373.25 L128.92,373.14 L129.27,373.03 L129.62,372.92 L129.96,372.81 L130.31,372.70 L130.66,372.59 L131.01,372.48 L131.36,372.37 L131.71,372.26 L132.06,372.15 L132.41,372.04 L132.75,371.93 L133.10,371.82 L133.45,371.71 L133.80,371.60 L134.15,371.71 L134.50,371.82 L134.85,371.93 L135.20,372.04 L135.54,372.15 L135.89,372.26 L136.24,372.37 L136.59,372.48 L136.94,372.59 L137.29,372.70 L137.64,372.81 L137.99,372.92 L138.33,373.03 L138.68,373.14 L139.03,373.25 L139.38,373.36 L139.73,373.47 L140.08,373.58 L140.43,373.69 L140.78,373.80 L141.12,373.91 L141.47,374.02 L141.82,374.13 L142.17,374.24 L142.52,374.35 L142.87,374.46 L143.22,374.57 L143.57,374.68 L143.91,374.79 L144.26,374.90 L144.61,375.01 L144.96,375.12 L145.31,375.23 L145.66,375.34 L146.01,375.45 L146.36,375.56 L146.70,375.67 L147.05,375.78 L147.40,375.89 L147.75,376.00 L148.10,376.11 L148.45,376.22 L148.80,376.33 L149.15,376.44 L149.49,376.55 L149.84,376.66 L150.19,376.77 L150.54,376.89 L150.89,377.00 L151.24,377.11 L151.59,377.22 L151.94,377.33 L152.28,377.44 L152.63,377.56 L152.98,377.67 L153.33,377.79 L153.68,377.91 L154.03,378.02 L154.38,378.15 L154.73,378.27 L155.07,378.40 L155.42,378.53 L155.77,378.66 L156.12,378.80 L156.47,378.95 L156.82,379.11 L157.17,379.28 L157.52,379.47 L157.86,379.67 L158.21,379.90 L158.56,380.15 L158.91,380.44 L159.26,380.76 L159.61,381.14 L159.96,381.59 L160.31,382.11 L160.65,382.72 L161.00,383.46 L161.35,384.34 L161.70,385.40 L163.9,385.4" stroke="#21908d" stroke-width="3.9" fill="none" stroke-linecap="round" stroke-linejoin="round"/>
<path d="M115.0,385.4 L117.20,385.40 L117.41,384.87 L117.62,384.39 L117.82,383.95 L118.03,383.55 L118.24,383.19 L118.45,382.85 L118.65,382.54 L118.86,382.26 L119.07,382.00 L119.28,381.76 L119.48,381.53 L119.69,381.32 L119.90,381.13 L120.11,380.94 L120.31,380.77 L120.52,380.61 L120.73,380.45 L120.94,380.31 L121.14,380.17 L121.35,380.03 L121.56,379.91 L121.77,379.78 L121.97,379.66 L122.18,379.55 L122.39,379.44 L122.60,379.33 L122.80,379.22 L123.01,379.12 L123.22,379.02 L123.43,378.92 L123.63,378.82 L123.84,378.72 L124.05,378.63 L124.26,378.53 L124.46,378.44 L124.67,378.34 L124.88,378.25 L125.09,378.16 L125.29,378.07 L125.50,377.98 L125.71,377.89 L125.92,377.80 L126.12,377.71 L126.33,377.62 L126.54,377.53 L126.75,377.45 L126.95,377.36 L127.16,377.27 L127.37,377.18 L127.58,377.10 L127.78,377.01 L127.99,376.92 L128.20,376.83 L128.41,376.75 L128.61,376.66 L128.82,376.57 L129.03,376.49 L129.24,376.40 L129.44,376.31 L129.65,376.23 L129.86,376.14 L130.06,376.05 L130.27,375.97 L130.48,375.88 L130.69,375.79 L130.90,375.71 L131.10,375.62 L131.31,375.54 L131.52,375.45 L131.73,375.36 L131.93,375.28 L132.14,375.19 L132.35,375.10 L132.56,375.02 L132.76,374.93 L132.97,374.85 L133.18,374.76 L133.39,374.67 L133.59,374.59 L133.80,374.50 L134.01,374.59 L134.22,374.67 L134.42,374.76 L134.63,374.85 L134.84,374.93 L135.05,375.02 L135.25,375.10 L135.46,375.19 L135.67,375.28 L135.88,375.36 L136.08,375.45 L136.29,375.54 L136.50,375.62 L136.71,375.71 L136.91,375.79 L137.12,375.88 L137.33,375.97 L137.54,376.05 L137.74,376.14 L137.95,376.23 L138.16,376.31 L138.37,376.40 L138.57,376.49 L138.78,376.57 L138.99,376.66 L139.20,376.75 L139.40,376.83 L139.61,376.92 L139.82,377.01 L140.03,377.10 L140.23,377.18 L140.44,377.27 L140.65,377.36 L140.86,377.45 L141.06,377.53 L141.27,377.62 L141.48,377.71 L141.69,377.80 L141.89,377.89 L142.10,377.98 L142.31,378.07 L142.52,378.16 L142.72,378.25 L142.93,378.34 L143.14,378.44 L143.34,378.53 L143.55,378.63 L143.76,378.72 L143.97,378.82 L144.18,378.92 L144.38,379.02 L144.59,379.12 L144.80,379.22 L145.01,379.33 L145.21,379.44 L145.42,379.55 L145.63,379.66 L145.84,379.78 L146.04,379.91 L146.25,380.03 L146.46,380.17 L146.67,380.31 L146.87,380.45 L147.08,380.61 L147.29,380.77 L147.50,380.94 L147.70,381.13 L147.91,381.32 L148.12,381.53 L148.33,381.76 L148.53,382.00 L148.74,382.26 L148.95,382.54 L149.16,382.85 L149.36,383.19 L149.57,383.55 L149.78,383.95 L149.99,384.39 L150.19,384.87 L150.40,385.40 L152.6,385.4" stroke="#3b528b" stroke-width="3.9" fill="none" stroke-linecap="round" stroke-linejoin="round"/>
<path d="M125.4,385.4 L127.60,385.40 L127.68,385.35 L127.76,385.29 L127.83,385.23 L127.91,385.17 L127.99,385.11 L128.06,385.04 L128.14,384.97 L128.22,384.90 L128.30,384.83 L128.38,384.76 L128.45,384.69 L128.53,384.61 L128.61,384.54 L128.69,384.46 L128.76,384.39 L128.84,384.31 L128.92,384.23 L129.00,384.15 L129.07,384.08 L129.15,384.00 L129.23,383.92 L129.31,383.84 L129.38,383.77 L129.46,383.69 L129.54,383.61 L129.62,383.53 L129.69,383.45 L129.77,383.38 L129.85,383.30 L129.93,383.22 L130.00,383.15 L130.08,383.07 L130.16,383.00 L130.24,382.92 L130.31,382.84 L130.39,382.77 L130.47,382.70 L130.55,382.62 L130.62,382.55 L130.70,382.47 L130.78,382.40 L130.86,382.33 L130.93,382.26 L131.01,382.18 L131.09,382.11 L131.17,382.04 L131.24,381.97 L131.32,381.90 L131.40,381.83 L131.48,381.76 L131.55,381.69 L131.63,381.62 L131.71,381.55 L131.79,381.48 L131.86,381.42 L131.94,381.35 L132.02,381.28 L132.09,381.21 L132.17,381.15 L132.25,381.08 L132.33,381.01 L132.41,380.95 L132.48,380.88 L132.56,380.81 L132.64,380.75 L132.72,380.68 L132.79,380.62 L132.87,380.55 L132.95,380.49 L133.03,380.42 L133.10,380.36 L133.18,380.30 L133.26,380.23 L133.34,380.17 L133.41,380.11 L133.49,380.04 L133.57,379.98 L133.65,379.92 L133.72,379.85 L133.80,379.79 L133.88,379.85 L133.96,379.92 L134.03,379.98 L134.11,380.04 L134.19,380.11 L134.27,380.17 L134.34,380.23 L134.42,380.30 L134.50,380.36 L134.58,380.42 L134.65,380.49 L134.73,380.55 L134.81,380.62 L134.89,380.68 L134.96,380.75 L135.04,380.81 L135.12,380.88 L135.20,380.95 L135.27,381.01 L135.35,381.08 L135.43,381.15 L135.51,381.21 L135.58,381.28 L135.66,381.35 L135.74,381.42 L135.81,381.48 L135.89,381.55 L135.97,381.62 L136.05,381.69 L136.12,381.76 L136.20,381.83 L136.28,381.90 L136.36,381.97 L136.44,382.04 L136.51,382.11 L136.59,382.18 L136.67,382.26 L136.75,382.33 L136.82,382.40 L136.90,382.47 L136.98,382.55 L137.06,382.62 L137.13,382.70 L137.21,382.77 L137.29,382.84 L137.37,382.92 L137.44,383.00 L137.52,383.07 L137.60,383.15 L137.68,383.22 L137.75,383.30 L137.83,383.38 L137.91,383.45 L137.99,383.53 L138.06,383.61 L138.14,383.69 L138.22,383.77 L138.30,383.84 L138.37,383.92 L138.45,384.00 L138.53,384.08 L138.61,384.15 L138.68,384.23 L138.76,384.31 L138.84,384.39 L138.92,384.46 L138.99,384.54 L139.07,384.61 L139.15,384.69 L139.23,384.76 L139.30,384.83 L139.38,384.90 L139.46,384.97 L139.54,385.04 L139.61,385.11 L139.69,385.17 L139.77,385.23 L139.84,385.29 L139.92,385.35 L140.00,385.40 L142.2,385.4" stroke="#440154" stroke-width="3.9" fill="none" stroke-linecap="round" stroke-linejoin="round"/>
<line x1="285.2" y1="385.5" x2="290.2" y2="385.5" stroke="#111" stroke-width="1"/>
<text x="280.4" y="388.7" font-size="9" fill="#111" font-weight="400" text-anchor="end" >0</text>
<line x1="285.2" y1="361.5" x2="290.2" y2="361.5" stroke="#111" stroke-width="1"/>
<text x="280.4" y="364.7" font-size="9" fill="#111" font-weight="400" text-anchor="end" >200</text>
<line x1="285.2" y1="337.5" x2="290.2" y2="337.5" stroke="#111" stroke-width="1"/>
<text x="280.4" y="340.7" font-size="9" fill="#111" font-weight="400" text-anchor="end" >400</text>
<line x1="290.2" y1="386.0" x2="290.2" y2="391.3" stroke="#111" stroke-width="1"/>
<text x="290.2" y="403.7" font-size="9" fill="#111" font-weight="400" text-anchor="middle" >−3000</text>
<line x1="328.7" y1="386.0" x2="328.7" y2="391.3" stroke="#111" stroke-width="1"/>
<text x="328.7" y="403.7" font-size="9" fill="#111" font-weight="400" text-anchor="middle" >−1500</text>
<line x1="367.2" y1="386.0" x2="367.2" y2="391.3" stroke="#111" stroke-width="1"/>
<text x="367.2" y="403.7" font-size="9" fill="#111" font-weight="400" text-anchor="middle" >0</text>
<line x1="405.7" y1="386.0" x2="405.7" y2="391.3" stroke="#111" stroke-width="1"/>
<text x="405.7" y="403.7" font-size="9" fill="#111" font-weight="400" text-anchor="middle" >1500</text>
<line x1="444.2" y1="386.0" x2="444.2" y2="391.3" stroke="#111" stroke-width="1"/>
<text x="444.2" y="403.7" font-size="9" fill="#111" font-weight="400" text-anchor="middle" >3000</text>
<text x="367.2" y="418.8" font-size="10.8" fill="#111" font-weight="400" text-anchor="middle" >x (<tspan font-style="italic">µm</tspan>)</text>
<text transform="translate(257.5,362.5) rotate(-90)" font-size="10.8" fill="#111" text-anchor="middle">z (<tspan font-style="italic">µm</tspan>)</text>
<text x="339.2" y="329.8" font-size="8.6" fill="#333" font-weight="400" textLength="58.4" lengthAdjust="spacingAndGlyphs" >20 mM glucose</text>
<text x="248.0" y="332.7" font-size="15.5" font-weight="700" fill="#000">h</text>
<path d="M315.0,385.5 L317.20,385.50 L317.82,384.02 L318.45,382.86 L319.07,381.92 L319.70,381.16 L320.32,380.52 L320.95,379.97 L321.57,379.48 L322.20,379.04 L322.82,378.63 L323.45,378.24 L324.07,377.87 L324.70,377.50 L325.32,377.15 L325.95,376.80 L326.57,376.45 L327.20,376.11 L327.82,375.77 L328.45,375.43 L329.07,375.09 L329.70,374.75 L330.32,374.41 L330.95,374.08 L331.57,373.74 L332.20,373.40 L332.82,373.06 L333.45,372.73 L334.07,372.39 L334.70,372.05 L335.32,371.71 L335.95,371.38 L336.57,371.04 L337.20,370.70 L337.82,370.36 L338.45,370.03 L339.07,369.69 L339.70,369.35 L340.32,369.01 L340.95,368.68 L341.57,368.34 L342.20,368.00 L342.82,367.66 L343.45,367.33 L344.07,366.99 L344.70,366.65 L345.32,366.31 L345.95,365.98 L346.57,365.64 L347.20,365.30 L347.82,364.96 L348.45,364.63 L349.07,364.29 L349.70,363.95 L350.32,363.61 L350.95,363.28 L351.57,362.94 L352.20,362.60 L352.82,362.26 L353.45,361.93 L354.07,361.59 L354.70,361.25 L355.32,360.91 L355.95,360.58 L356.57,360.24 L357.20,359.90 L357.82,359.56 L358.45,359.23 L359.07,358.89 L359.70,358.55 L360.32,358.21 L360.95,357.88 L361.57,357.54 L362.20,357.20 L362.82,356.86 L363.45,356.53 L364.07,356.19 L364.70,355.85 L365.32,355.51 L365.95,355.18 L366.57,354.84 L367.20,354.50 L367.82,354.84 L368.45,355.18 L369.07,355.51 L369.70,355.85 L370.32,356.19 L370.95,356.53 L371.57,356.86 L372.20,357.20 L372.82,357.54 L373.45,357.88 L374.07,358.21 L374.70,358.55 L375.32,358.89 L375.95,359.23 L376.57,359.56 L377.20,359.90 L377.82,360.24 L378.45,360.58 L379.07,360.91 L379.70,361.25 L380.32,361.59 L380.95,361.93 L381.57,362.26 L382.20,362.60 L382.82,362.94 L383.45,363.28 L384.07,363.61 L384.70,363.95 L385.32,364.29 L385.95,364.63 L386.57,364.96 L387.20,365.30 L387.82,365.64 L388.45,365.98 L389.07,366.31 L389.70,366.65 L390.32,366.99 L390.95,367.33 L391.57,367.66 L392.20,368.00 L392.82,368.34 L393.45,368.68 L394.07,369.01 L394.70,369.35 L395.32,369.69 L395.95,370.03 L396.57,370.36 L397.20,370.70 L397.82,371.04 L398.45,371.38 L399.07,371.71 L399.70,372.05 L400.32,372.39 L400.95,372.73 L401.57,373.06 L402.20,373.40 L402.82,373.74 L403.45,374.08 L404.07,374.41 L404.70,374.75 L405.32,375.09 L405.95,375.43 L406.57,375.77 L407.20,376.11 L407.82,376.45 L408.45,376.80 L409.07,377.15 L409.70,377.50 L410.32,377.87 L410.95,378.24 L411.57,378.63 L412.20,379.04 L412.82,379.48 L413.45,379.97 L414.07,380.52 L414.70,381.16 L415.32,381.92 L415.95,382.86 L416.57,384.02 L417.20,385.50 L419.4,385.5" stroke="#8fd744" stroke-width="3.9" fill="none" stroke-linecap="round" stroke-linejoin="round"/>
<path d="M325.0,385.5 L327.20,385.50 L327.70,384.15 L328.20,383.05 L328.70,382.15 L329.20,381.40 L329.70,380.77 L330.20,380.22 L330.70,379.75 L331.20,379.32 L331.70,378.94 L332.20,378.58 L332.70,378.25 L333.20,377.93 L333.70,377.63 L334.20,377.33 L334.70,377.04 L335.20,376.76 L335.70,376.48 L336.20,376.21 L336.70,375.93 L337.20,375.66 L337.70,375.39 L338.20,375.12 L338.70,374.85 L339.20,374.58 L339.70,374.32 L340.20,374.05 L340.70,373.78 L341.20,373.51 L341.70,373.24 L342.20,372.98 L342.70,372.71 L343.20,372.44 L343.70,372.17 L344.20,371.91 L344.70,371.64 L345.20,371.37 L345.70,371.10 L346.20,370.84 L346.70,370.57 L347.20,370.30 L347.70,370.03 L348.20,369.77 L348.70,369.50 L349.20,369.23 L349.70,368.96 L350.20,368.70 L350.70,368.43 L351.20,368.16 L351.70,367.89 L352.20,367.63 L352.70,367.36 L353.20,367.09 L353.70,366.82 L354.20,366.56 L354.70,366.29 L355.20,366.02 L355.70,365.75 L356.20,365.49 L356.70,365.22 L357.20,364.95 L357.70,364.68 L358.20,364.42 L358.70,364.15 L359.20,363.88 L359.70,363.61 L360.20,363.35 L360.70,363.08 L361.20,362.81 L361.70,362.54 L362.20,362.28 L362.70,362.01 L363.20,361.74 L363.70,361.47 L364.20,361.21 L364.70,360.94 L365.20,360.67 L365.70,360.40 L366.20,360.14 L366.70,359.87 L367.20,359.60 L367.70,359.87 L368.20,360.14 L368.70,360.40 L369.20,360.67 L369.70,360.94 L370.20,361.21 L370.70,361.47 L371.20,361.74 L371.70,362.01 L372.20,362.28 L372.70,362.54 L373.20,362.81 L373.70,363.08 L374.20,363.35 L374.70,363.61 L375.20,363.88 L375.70,364.15 L376.20,364.42 L376.70,364.68 L377.20,364.95 L377.70,365.22 L378.20,365.49 L378.70,365.75 L379.20,366.02 L379.70,366.29 L380.20,366.56 L380.70,366.82 L381.20,367.09 L381.70,367.36 L382.20,367.63 L382.70,367.89 L383.20,368.16 L383.70,368.43 L384.20,368.70 L384.70,368.96 L385.20,369.23 L385.70,369.50 L386.20,369.77 L386.70,370.03 L387.20,370.30 L387.70,370.57 L388.20,370.84 L388.70,371.10 L389.20,371.37 L389.70,371.64 L390.20,371.91 L390.70,372.17 L391.20,372.44 L391.70,372.71 L392.20,372.98 L392.70,373.24 L393.20,373.51 L393.70,373.78 L394.20,374.05 L394.70,374.32 L395.20,374.58 L395.70,374.85 L396.20,375.12 L396.70,375.39 L397.20,375.66 L397.70,375.93 L398.20,376.21 L398.70,376.48 L399.20,376.76 L399.70,377.04 L400.20,377.33 L400.70,377.63 L401.20,377.93 L401.70,378.25 L402.20,378.58 L402.70,378.94 L403.20,379.32 L403.70,379.75 L404.20,380.22 L404.70,380.77 L405.20,381.40 L405.70,382.15 L406.20,383.05 L406.70,384.15 L407.20,385.50 L409.4,385.5" stroke="#35b779" stroke-width="3.9" fill="none" stroke-linecap="round" stroke-linejoin="round"/>
<path d="M337.0,385.5 L339.20,385.50 L339.55,384.62 L339.90,383.83 L340.25,383.12 L340.60,382.49 L340.95,381.92 L341.30,381.40 L341.65,380.92 L342.00,380.49 L342.35,380.09 L342.70,379.71 L343.05,379.36 L343.40,379.03 L343.75,378.72 L344.10,378.42 L344.45,378.13 L344.80,377.84 L345.15,377.57 L345.50,377.30 L345.85,377.04 L346.20,376.79 L346.55,376.53 L346.90,376.28 L347.25,376.03 L347.60,375.79 L347.95,375.54 L348.30,375.30 L348.65,375.06 L349.00,374.82 L349.35,374.58 L349.70,374.34 L350.05,374.11 L350.40,373.87 L350.75,373.63 L351.10,373.40 L351.45,373.16 L351.80,372.92 L352.15,372.69 L352.50,372.46 L352.85,372.22 L353.20,371.99 L353.55,371.75 L353.90,371.52 L354.25,371.29 L354.60,371.06 L354.95,370.82 L355.30,370.59 L355.65,370.36 L356.00,370.13 L356.35,369.90 L356.70,369.67 L357.05,369.44 L357.40,369.21 L357.75,368.98 L358.10,368.75 L358.45,368.53 L358.80,368.30 L359.15,368.07 L359.50,367.84 L359.85,367.62 L360.20,367.39 L360.55,367.17 L360.90,366.94 L361.25,366.72 L361.60,366.50 L361.95,366.27 L362.30,366.05 L362.65,365.83 L363.00,365.61 L363.35,365.39 L363.70,365.17 L364.05,364.96 L364.40,364.74 L364.75,364.53 L365.10,364.31 L365.45,364.10 L365.80,363.89 L366.15,363.69 L366.50,363.48 L366.85,363.28 L367.20,363.10 L367.55,363.28 L367.90,363.48 L368.25,363.69 L368.60,363.89 L368.95,364.10 L369.30,364.31 L369.65,364.53 L370.00,364.74 L370.35,364.96 L370.70,365.17 L371.05,365.39 L371.40,365.61 L371.75,365.83 L372.10,366.05 L372.45,366.27 L372.80,366.50 L373.15,366.72 L373.50,366.94 L373.85,367.17 L374.20,367.39 L374.55,367.62 L374.90,367.84 L375.25,368.07 L375.60,368.30 L375.95,368.53 L376.30,368.75 L376.65,368.98 L377.00,369.21 L377.35,369.44 L377.70,369.67 L378.05,369.90 L378.40,370.13 L378.75,370.36 L379.10,370.59 L379.45,370.82 L379.80,371.06 L380.15,371.29 L380.50,371.52 L380.85,371.75 L381.20,371.99 L381.55,372.22 L381.90,372.46 L382.25,372.69 L382.60,372.92 L382.95,373.16 L383.30,373.40 L383.65,373.63 L384.00,373.87 L384.35,374.11 L384.70,374.34 L385.05,374.58 L385.40,374.82 L385.75,375.06 L386.10,375.30 L386.45,375.54 L386.80,375.79 L387.15,376.03 L387.50,376.28 L387.85,376.53 L388.20,376.79 L388.55,377.04 L388.90,377.30 L389.25,377.57 L389.60,377.84 L389.95,378.13 L390.30,378.42 L390.65,378.72 L391.00,379.03 L391.35,379.36 L391.70,379.71 L392.05,380.09 L392.40,380.49 L392.75,380.92 L393.10,381.40 L393.45,381.92 L393.80,382.49 L394.15,383.12 L394.50,383.83 L394.85,384.62 L395.20,385.50 L397.4,385.5" stroke="#21908d" stroke-width="3.9" fill="none" stroke-linecap="round" stroke-linejoin="round"/>
<path d="M348.2,385.5 L350.40,385.50 L350.61,385.01 L350.82,384.54 L351.03,384.08 L351.24,383.63 L351.45,383.20 L351.66,382.78 L351.87,382.38 L352.08,381.99 L352.29,381.61 L352.50,381.25 L352.71,380.91 L352.92,380.57 L353.13,380.25 L353.34,379.94 L353.55,379.63 L353.76,379.34 L353.97,379.05 L354.18,378.78 L354.39,378.51 L354.60,378.24 L354.81,377.99 L355.02,377.74 L355.23,377.49 L355.44,377.25 L355.65,377.01 L355.86,376.78 L356.07,376.55 L356.28,376.33 L356.49,376.10 L356.70,375.88 L356.91,375.67 L357.12,375.45 L357.33,375.24 L357.54,375.03 L357.75,374.82 L357.96,374.61 L358.17,374.41 L358.38,374.21 L358.59,374.00 L358.80,373.80 L359.01,373.60 L359.22,373.41 L359.43,373.21 L359.64,373.01 L359.85,372.82 L360.06,372.63 L360.27,372.44 L360.48,372.25 L360.69,372.06 L360.90,371.87 L361.11,371.68 L361.32,371.49 L361.53,371.31 L361.74,371.13 L361.95,370.94 L362.16,370.76 L362.37,370.58 L362.58,370.40 L362.79,370.23 L363.00,370.05 L363.21,369.87 L363.42,369.70 L363.63,369.53 L363.84,369.36 L364.05,369.19 L364.26,369.02 L364.47,368.86 L364.68,368.69 L364.89,368.53 L365.10,368.37 L365.31,368.22 L365.52,368.06 L365.73,367.91 L365.94,367.76 L366.15,367.62 L366.36,367.48 L366.57,367.34 L366.78,367.22 L366.99,367.10 L367.20,367.00 L367.41,367.10 L367.62,367.22 L367.83,367.34 L368.04,367.48 L368.25,367.62 L368.46,367.76 L368.67,367.91 L368.88,368.06 L369.09,368.22 L369.30,368.37 L369.51,368.53 L369.72,368.69 L369.93,368.86 L370.14,369.02 L370.35,369.19 L370.56,369.36 L370.77,369.53 L370.98,369.70 L371.19,369.87 L371.40,370.05 L371.61,370.23 L371.82,370.40 L372.03,370.58 L372.24,370.76 L372.45,370.94 L372.66,371.13 L372.87,371.31 L373.08,371.49 L373.29,371.68 L373.50,371.87 L373.71,372.06 L373.92,372.25 L374.13,372.44 L374.34,372.63 L374.55,372.82 L374.76,373.01 L374.97,373.21 L375.18,373.41 L375.39,373.60 L375.60,373.80 L375.81,374.00 L376.02,374.21 L376.23,374.41 L376.44,374.61 L376.65,374.82 L376.86,375.03 L377.07,375.24 L377.28,375.45 L377.49,375.67 L377.70,375.88 L377.91,376.10 L378.12,376.33 L378.33,376.55 L378.54,376.78 L378.75,377.01 L378.96,377.25 L379.17,377.49 L379.38,377.74 L379.59,377.99 L379.80,378.24 L380.01,378.51 L380.22,378.78 L380.43,379.05 L380.64,379.34 L380.85,379.63 L381.06,379.94 L381.27,380.25 L381.48,380.57 L381.69,380.91 L381.90,381.25 L382.11,381.61 L382.32,381.99 L382.53,382.38 L382.74,382.78 L382.95,383.20 L383.16,383.63 L383.37,384.08 L383.58,384.54 L383.79,385.01 L384.00,385.50 L386.2,385.5" stroke="#3b528b" stroke-width="3.9" fill="none" stroke-linecap="round" stroke-linejoin="round"/>
<path d="M359.8,385.5 L361.95,385.50 L362.02,385.46 L362.08,385.41 L362.15,385.36 L362.21,385.31 L362.28,385.26 L362.34,385.21 L362.41,385.15 L362.47,385.10 L362.54,385.04 L362.61,384.99 L362.67,384.93 L362.74,384.87 L362.80,384.81 L362.87,384.75 L362.93,384.69 L363.00,384.63 L363.07,384.57 L363.13,384.51 L363.20,384.45 L363.26,384.39 L363.33,384.33 L363.39,384.27 L363.46,384.21 L363.52,384.15 L363.59,384.09 L363.66,384.03 L363.72,383.96 L363.79,383.90 L363.85,383.84 L363.92,383.78 L363.98,383.72 L364.05,383.66 L364.12,383.60 L364.18,383.54 L364.25,383.48 L364.31,383.42 L364.38,383.36 L364.44,383.30 L364.51,383.25 L364.57,383.19 L364.64,383.13 L364.71,383.07 L364.77,383.01 L364.84,382.95 L364.90,382.90 L364.97,382.84 L365.03,382.78 L365.10,382.73 L365.17,382.67 L365.23,382.61 L365.30,382.56 L365.36,382.50 L365.43,382.45 L365.49,382.39 L365.56,382.34 L365.62,382.28 L365.69,382.23 L365.76,382.18 L365.82,382.12 L365.89,382.07 L365.95,382.01 L366.02,381.96 L366.08,381.91 L366.15,381.86 L366.22,381.80 L366.28,381.75 L366.35,381.70 L366.41,381.65 L366.48,381.60 L366.54,381.54 L366.61,381.49 L366.68,381.44 L366.74,381.39 L366.81,381.34 L366.87,381.29 L366.94,381.24 L367.00,381.19 L367.07,381.14 L367.13,381.09 L367.20,381.04 L367.27,381.09 L367.33,381.14 L367.40,381.19 L367.46,381.24 L367.53,381.29 L367.59,381.34 L367.66,381.39 L367.72,381.44 L367.79,381.49 L367.86,381.54 L367.92,381.60 L367.99,381.65 L368.05,381.70 L368.12,381.75 L368.18,381.80 L368.25,381.86 L368.32,381.91 L368.38,381.96 L368.45,382.01 L368.51,382.07 L368.58,382.12 L368.64,382.18 L368.71,382.23 L368.77,382.28 L368.84,382.34 L368.91,382.39 L368.97,382.45 L369.04,382.50 L369.10,382.56 L369.17,382.61 L369.23,382.67 L369.30,382.73 L369.37,382.78 L369.43,382.84 L369.50,382.90 L369.56,382.95 L369.63,383.01 L369.69,383.07 L369.76,383.13 L369.82,383.19 L369.89,383.25 L369.96,383.30 L370.02,383.36 L370.09,383.42 L370.15,383.48 L370.22,383.54 L370.28,383.60 L370.35,383.66 L370.42,383.72 L370.48,383.78 L370.55,383.84 L370.61,383.90 L370.68,383.96 L370.74,384.03 L370.81,384.09 L370.88,384.15 L370.94,384.21 L371.01,384.27 L371.07,384.33 L371.14,384.39 L371.20,384.45 L371.27,384.51 L371.33,384.57 L371.40,384.63 L371.47,384.69 L371.53,384.75 L371.60,384.81 L371.66,384.87 L371.73,384.93 L371.79,384.99 L371.86,385.04 L371.93,385.10 L371.99,385.15 L372.06,385.21 L372.12,385.26 L372.19,385.31 L372.25,385.36 L372.32,385.41 L372.38,385.46 L372.45,385.50 L374.6,385.5" stroke="#440154" stroke-width="3.9" fill="none" stroke-linecap="round" stroke-linejoin="round"/>
<line x1="511.70000000000005" y1="385.8" x2="516.7" y2="385.8" stroke="#111" stroke-width="1"/>
<text x="506.9" y="389.0" font-size="9" fill="#111" font-weight="400" text-anchor="end" >0</text>
<line x1="511.70000000000005" y1="361.8" x2="516.7" y2="361.8" stroke="#111" stroke-width="1"/>
<text x="506.9" y="365.0" font-size="9" fill="#111" font-weight="400" text-anchor="end" >200</text>
<line x1="511.70000000000005" y1="337.8" x2="516.7" y2="337.8" stroke="#111" stroke-width="1"/>
<text x="506.9" y="341.0" font-size="9" fill="#111" font-weight="400" text-anchor="end" >400</text>
<line x1="516.7" y1="386.3" x2="516.7" y2="391.6" stroke="#111" stroke-width="1"/>
<text x="516.7" y="404.0" font-size="9" fill="#111" font-weight="400" text-anchor="middle" >−3000</text>
<line x1="555.2" y1="386.3" x2="555.2" y2="391.6" stroke="#111" stroke-width="1"/>
<text x="555.2" y="404.0" font-size="9" fill="#111" font-weight="400" text-anchor="middle" >−1500</text>
<line x1="593.7" y1="386.3" x2="593.7" y2="391.6" stroke="#111" stroke-width="1"/>
<text x="593.7" y="404.0" font-size="9" fill="#111" font-weight="400" text-anchor="middle" >0</text>
<line x1="632.2" y1="386.3" x2="632.2" y2="391.6" stroke="#111" stroke-width="1"/>
<text x="632.2" y="404.0" font-size="9" fill="#111" font-weight="400" text-anchor="middle" >1500</text>
<line x1="670.7" y1="386.3" x2="670.7" y2="391.6" stroke="#111" stroke-width="1"/>
<text x="670.7" y="404.0" font-size="9" fill="#111" font-weight="400" text-anchor="middle" >3000</text>
<text x="593.7" y="419.1" font-size="10.8" fill="#111" font-weight="400" text-anchor="middle" >x (<tspan font-style="italic">µm</tspan>)</text>
<text transform="translate(484.00000000000006,362.8) rotate(-90)" font-size="10.8" fill="#111" text-anchor="middle">z (<tspan font-style="italic">µm</tspan>)</text>
<text x="564.2" y="329.8" font-size="8.6" fill="#333" font-weight="400" textLength="58.4" lengthAdjust="spacingAndGlyphs" >30 mM glucose</text>
<text x="470.5" y="332.8" font-size="15.5" font-weight="700" fill="#000">i</text>
<path d="M542.0,385.8 L544.20,385.80 L544.82,384.45 L545.44,383.27 L546.06,382.24 L546.68,381.34 L547.29,380.54 L547.91,379.81 L548.53,379.15 L549.15,378.53 L549.77,377.94 L550.39,377.38 L551.01,376.83 L551.62,376.29 L552.24,375.77 L552.86,375.25 L553.48,374.73 L554.10,374.22 L554.72,373.70 L555.34,373.20 L555.96,372.69 L556.58,372.18 L557.19,371.67 L557.81,371.16 L558.43,370.66 L559.05,370.15 L559.67,369.64 L560.29,369.14 L560.91,368.63 L561.53,368.13 L562.14,367.62 L562.76,367.11 L563.38,366.61 L564.00,366.10 L564.62,365.59 L565.24,365.09 L565.86,364.58 L566.48,364.08 L567.09,363.57 L567.71,363.06 L568.33,362.56 L568.95,362.05 L569.57,361.54 L570.19,361.04 L570.81,360.53 L571.43,360.03 L572.04,359.52 L572.66,359.01 L573.28,358.51 L573.90,358.00 L574.52,357.49 L575.14,356.99 L575.76,356.48 L576.38,355.98 L576.99,355.47 L577.61,354.96 L578.23,354.46 L578.85,353.95 L579.47,353.44 L580.09,352.94 L580.71,352.43 L581.33,351.93 L581.94,351.42 L582.56,350.91 L583.18,350.41 L583.80,349.90 L584.42,349.39 L585.04,348.89 L585.66,348.38 L586.28,347.88 L586.89,347.37 L587.51,346.86 L588.13,346.36 L588.75,345.85 L589.37,345.34 L589.99,344.84 L590.61,344.33 L591.23,343.83 L591.84,343.32 L592.46,342.81 L593.08,342.31 L593.70,341.80 L594.32,342.31 L594.94,342.81 L595.56,343.32 L596.18,343.83 L596.79,344.33 L597.41,344.84 L598.03,345.34 L598.65,345.85 L599.27,346.36 L599.89,346.86 L600.51,347.37 L601.12,347.88 L601.74,348.38 L602.36,348.89 L602.98,349.39 L603.60,349.90 L604.22,350.41 L604.84,350.91 L605.46,351.42 L606.08,351.93 L606.69,352.43 L607.31,352.94 L607.93,353.44 L608.55,353.95 L609.17,354.46 L609.79,354.96 L610.41,355.47 L611.03,355.98 L611.64,356.48 L612.26,356.99 L612.88,357.49 L613.50,358.00 L614.12,358.51 L614.74,359.01 L615.36,359.52 L615.98,360.03 L616.59,360.53 L617.21,361.04 L617.83,361.54 L618.45,362.05 L619.07,362.56 L619.69,363.06 L620.31,363.57 L620.93,364.08 L621.54,364.58 L622.16,365.09 L622.78,365.59 L623.40,366.10 L624.02,366.61 L624.64,367.11 L625.26,367.62 L625.88,368.13 L626.49,368.63 L627.11,369.14 L627.73,369.64 L628.35,370.15 L628.97,370.66 L629.59,371.16 L630.21,371.67 L630.83,372.18 L631.44,372.69 L632.06,373.20 L632.68,373.70 L633.30,374.22 L633.92,374.73 L634.54,375.25 L635.16,375.77 L635.78,376.29 L636.39,376.83 L637.01,377.38 L637.63,377.94 L638.25,378.53 L638.87,379.15 L639.49,379.81 L640.11,380.54 L640.73,381.34 L641.34,382.24 L641.96,383.27 L642.58,384.45 L643.20,385.80 L645.4,385.8" stroke="#8fd744" stroke-width="3.9" fill="none" stroke-linecap="round" stroke-linejoin="round"/>
<path d="M553.4,385.8 L555.60,385.80 L556.08,384.59 L556.55,383.49 L557.03,382.51 L557.50,381.62 L557.98,380.81 L558.46,380.08 L558.93,379.41 L559.41,378.78 L559.89,378.19 L560.36,377.63 L560.84,377.10 L561.32,376.58 L561.79,376.08 L562.27,375.59 L562.74,375.11 L563.22,374.64 L563.70,374.18 L564.17,373.72 L564.65,373.26 L565.12,372.80 L565.60,372.35 L566.08,371.90 L566.55,371.45 L567.03,371.00 L567.51,370.55 L567.98,370.10 L568.46,369.66 L568.94,369.21 L569.41,368.77 L569.89,368.32 L570.36,367.88 L570.84,367.44 L571.32,366.99 L571.79,366.55 L572.27,366.11 L572.75,365.67 L573.22,365.23 L573.70,364.79 L574.17,364.35 L574.65,363.91 L575.13,363.47 L575.60,363.03 L576.08,362.60 L576.56,362.16 L577.03,361.72 L577.51,361.29 L577.98,360.85 L578.46,360.42 L578.94,359.99 L579.41,359.55 L579.89,359.12 L580.37,358.69 L580.84,358.26 L581.32,357.83 L581.79,357.40 L582.27,356.97 L582.75,356.55 L583.22,356.12 L583.70,355.69 L584.18,355.27 L584.65,354.85 L585.13,354.43 L585.60,354.00 L586.08,353.58 L586.56,353.17 L587.03,352.75 L587.51,352.33 L587.99,351.92 L588.46,351.51 L588.94,351.10 L589.41,350.69 L589.89,350.28 L590.37,349.88 L590.84,349.48 L591.32,349.08 L591.80,348.69 L592.27,348.30 L592.75,347.92 L593.22,347.55 L593.70,347.20 L594.18,347.55 L594.65,347.92 L595.13,348.30 L595.61,348.69 L596.08,349.08 L596.56,349.48 L597.03,349.88 L597.51,350.28 L597.99,350.69 L598.46,351.10 L598.94,351.51 L599.42,351.92 L599.89,352.33 L600.37,352.75 L600.84,353.17 L601.32,353.58 L601.80,354.00 L602.27,354.43 L602.75,354.85 L603.23,355.27 L603.70,355.69 L604.18,356.12 L604.65,356.55 L605.13,356.97 L605.61,357.40 L606.08,357.83 L606.56,358.26 L607.04,358.69 L607.51,359.12 L607.99,359.55 L608.46,359.99 L608.94,360.42 L609.42,360.85 L609.89,361.29 L610.37,361.72 L610.85,362.16 L611.32,362.60 L611.80,363.03 L612.27,363.47 L612.75,363.91 L613.23,364.35 L613.70,364.79 L614.18,365.23 L614.66,365.67 L615.13,366.11 L615.61,366.55 L616.08,366.99 L616.56,367.44 L617.04,367.88 L617.51,368.32 L617.99,368.77 L618.47,369.21 L618.94,369.66 L619.42,370.10 L619.89,370.55 L620.37,371.00 L620.85,371.45 L621.32,371.90 L621.80,372.35 L622.28,372.80 L622.75,373.26 L623.23,373.72 L623.70,374.18 L624.18,374.64 L624.66,375.11 L625.13,375.59 L625.61,376.08 L626.09,376.58 L626.56,377.10 L627.04,377.63 L627.51,378.19 L627.99,378.78 L628.47,379.41 L628.94,380.08 L629.42,380.81 L629.90,381.62 L630.37,382.51 L630.85,383.49 L631.32,384.59 L631.80,385.80 L634.0,385.8" stroke="#35b779" stroke-width="3.9" fill="none" stroke-linecap="round" stroke-linejoin="round"/>
<path d="M565.0,385.8 L567.20,385.80 L567.53,385.01 L567.86,384.19 L568.19,383.36 L568.53,382.55 L568.86,381.77 L569.19,381.00 L569.52,380.26 L569.85,379.56 L570.18,378.87 L570.51,378.22 L570.84,377.58 L571.18,376.97 L571.51,376.38 L571.84,375.81 L572.17,375.25 L572.50,374.70 L572.83,374.17 L573.16,373.65 L573.49,373.14 L573.83,372.63 L574.16,372.14 L574.49,371.65 L574.82,371.17 L575.15,370.69 L575.48,370.22 L575.81,369.75 L576.14,369.29 L576.48,368.83 L576.81,368.37 L577.14,367.92 L577.47,367.47 L577.80,367.03 L578.13,366.59 L578.46,366.15 L578.79,365.72 L579.12,365.29 L579.46,364.86 L579.79,364.44 L580.12,364.01 L580.45,363.60 L580.78,363.18 L581.11,362.77 L581.44,362.36 L581.78,361.96 L582.11,361.56 L582.44,361.16 L582.77,360.76 L583.10,360.37 L583.43,359.99 L583.76,359.60 L584.09,359.22 L584.43,358.85 L584.76,358.48 L585.09,358.11 L585.42,357.74 L585.75,357.39 L586.08,357.03 L586.41,356.68 L586.74,356.34 L587.08,356.00 L587.41,355.66 L587.74,355.33 L588.07,355.01 L588.40,354.69 L588.73,354.37 L589.06,354.07 L589.39,353.77 L589.73,353.47 L590.06,353.19 L590.39,352.91 L590.72,352.64 L591.05,352.38 L591.38,352.13 L591.71,351.89 L592.04,351.66 L592.38,351.44 L592.71,351.24 L593.04,351.06 L593.37,350.91 L593.70,350.80 L594.03,350.91 L594.36,351.06 L594.69,351.24 L595.03,351.44 L595.36,351.66 L595.69,351.89 L596.02,352.13 L596.35,352.38 L596.68,352.64 L597.01,352.91 L597.34,353.19 L597.68,353.47 L598.01,353.77 L598.34,354.07 L598.67,354.37 L599.00,354.69 L599.33,355.01 L599.66,355.33 L599.99,355.66 L600.33,356.00 L600.66,356.34 L600.99,356.68 L601.32,357.03 L601.65,357.39 L601.98,357.74 L602.31,358.11 L602.64,358.48 L602.98,358.85 L603.31,359.22 L603.64,359.60 L603.97,359.99 L604.30,360.37 L604.63,360.76 L604.96,361.16 L605.29,361.56 L605.62,361.96 L605.96,362.36 L606.29,362.77 L606.62,363.18 L606.95,363.60 L607.28,364.01 L607.61,364.44 L607.94,364.86 L608.28,365.29 L608.61,365.72 L608.94,366.15 L609.27,366.59 L609.60,367.03 L609.93,367.47 L610.26,367.92 L610.59,368.37 L610.93,368.83 L611.26,369.29 L611.59,369.75 L611.92,370.22 L612.25,370.69 L612.58,371.17 L612.91,371.65 L613.24,372.14 L613.58,372.63 L613.91,373.14 L614.24,373.65 L614.57,374.17 L614.90,374.70 L615.23,375.25 L615.56,375.81 L615.89,376.38 L616.23,376.97 L616.56,377.58 L616.89,378.22 L617.22,378.87 L617.55,379.56 L617.88,380.26 L618.21,381.00 L618.54,381.77 L618.88,382.55 L619.21,383.36 L619.54,384.19 L619.87,385.01 L620.20,385.80 L622.4,385.8" stroke="#21908d" stroke-width="3.9" fill="none" stroke-linecap="round" stroke-linejoin="round"/>
<path d="M576.0,385.8 L578.20,385.80 L578.39,385.48 L578.59,385.07 L578.78,384.58 L578.98,384.03 L579.17,383.44 L579.36,382.81 L579.56,382.17 L579.75,381.51 L579.94,380.84 L580.14,380.17 L580.33,379.51 L580.53,378.85 L580.72,378.19 L580.91,377.55 L581.11,376.92 L581.30,376.30 L581.49,375.69 L581.69,375.09 L581.88,374.51 L582.08,373.95 L582.27,373.39 L582.46,372.85 L582.66,372.32 L582.85,371.81 L583.04,371.31 L583.24,370.82 L583.43,370.34 L583.62,369.88 L583.82,369.42 L584.01,368.98 L584.21,368.55 L584.40,368.12 L584.59,367.71 L584.79,367.31 L584.98,366.92 L585.18,366.54 L585.37,366.17 L585.56,365.80 L585.76,365.45 L585.95,365.10 L586.14,364.77 L586.34,364.44 L586.53,364.12 L586.73,363.81 L586.92,363.51 L587.11,363.22 L587.31,362.93 L587.50,362.65 L587.69,362.38 L587.89,362.12 L588.08,361.87 L588.28,361.63 L588.47,361.39 L588.66,361.16 L588.86,360.94 L589.05,360.73 L589.24,360.52 L589.44,360.33 L589.63,360.14 L589.83,359.96 L590.02,359.78 L590.21,359.62 L590.41,359.46 L590.60,359.31 L590.79,359.17 L590.99,359.04 L591.18,358.92 L591.38,358.80 L591.57,358.70 L591.76,358.60 L591.96,358.51 L592.15,358.43 L592.34,358.35 L592.54,358.29 L592.73,358.23 L592.93,358.19 L593.12,358.15 L593.31,358.12 L593.51,358.11 L593.70,358.10 L593.89,358.11 L594.09,358.12 L594.28,358.15 L594.48,358.19 L594.67,358.23 L594.86,358.29 L595.06,358.35 L595.25,358.43 L595.44,358.51 L595.64,358.60 L595.83,358.70 L596.03,358.80 L596.22,358.92 L596.41,359.04 L596.61,359.17 L596.80,359.31 L596.99,359.46 L597.19,359.62 L597.38,359.78 L597.58,359.96 L597.77,360.14 L597.96,360.33 L598.16,360.52 L598.35,360.73 L598.54,360.94 L598.74,361.16 L598.93,361.39 L599.12,361.63 L599.32,361.87 L599.51,362.12 L599.71,362.38 L599.90,362.65 L600.09,362.93 L600.29,363.22 L600.48,363.51 L600.68,363.81 L600.87,364.12 L601.06,364.44 L601.26,364.77 L601.45,365.10 L601.64,365.45 L601.84,365.80 L602.03,366.17 L602.23,366.54 L602.42,366.92 L602.61,367.31 L602.81,367.71 L603.00,368.12 L603.19,368.55 L603.39,368.98 L603.58,369.42 L603.78,369.88 L603.97,370.34 L604.16,370.82 L604.36,371.31 L604.55,371.81 L604.74,372.32 L604.94,372.85 L605.13,373.39 L605.33,373.95 L605.52,374.51 L605.71,375.09 L605.91,375.69 L606.10,376.30 L606.29,376.92 L606.49,377.55 L606.68,378.19 L606.88,378.85 L607.07,379.51 L607.26,380.17 L607.46,380.84 L607.65,381.51 L607.84,382.17 L608.04,382.81 L608.23,383.44 L608.43,384.03 L608.62,384.58 L608.81,385.07 L609.01,385.48 L609.20,385.80 L611.4,385.8" stroke="#3b528b" stroke-width="3.9" fill="none" stroke-linecap="round" stroke-linejoin="round"/>
<path d="M586.5,385.8 L588.70,385.80 L588.76,385.76 L588.83,385.71 L588.89,385.66 L588.95,385.61 L589.01,385.56 L589.08,385.50 L589.14,385.44 L589.20,385.38 L589.26,385.32 L589.33,385.25 L589.39,385.19 L589.45,385.12 L589.51,385.06 L589.58,384.99 L589.64,384.92 L589.70,384.85 L589.76,384.77 L589.83,384.70 L589.89,384.63 L589.95,384.56 L590.01,384.48 L590.08,384.41 L590.14,384.33 L590.20,384.26 L590.26,384.18 L590.33,384.11 L590.39,384.03 L590.45,383.95 L590.51,383.88 L590.58,383.80 L590.64,383.73 L590.70,383.65 L590.76,383.57 L590.83,383.50 L590.89,383.42 L590.95,383.35 L591.01,383.27 L591.08,383.19 L591.14,383.12 L591.20,383.04 L591.26,382.97 L591.33,382.89 L591.39,382.82 L591.45,382.74 L591.51,382.67 L591.58,382.59 L591.64,382.52 L591.70,382.45 L591.76,382.37 L591.83,382.30 L591.89,382.22 L591.95,382.15 L592.01,382.08 L592.08,382.01 L592.14,381.93 L592.20,381.86 L592.26,381.79 L592.33,381.72 L592.39,381.65 L592.45,381.58 L592.51,381.51 L592.58,381.44 L592.64,381.37 L592.70,381.30 L592.76,381.23 L592.83,381.16 L592.89,381.09 L592.95,381.02 L593.01,380.95 L593.08,380.88 L593.14,380.81 L593.20,380.74 L593.26,380.68 L593.33,380.61 L593.39,380.54 L593.45,380.47 L593.51,380.41 L593.58,380.34 L593.64,380.27 L593.70,380.21 L593.76,380.27 L593.83,380.34 L593.89,380.41 L593.95,380.47 L594.01,380.54 L594.08,380.61 L594.14,380.68 L594.20,380.74 L594.26,380.81 L594.33,380.88 L594.39,380.95 L594.45,381.02 L594.51,381.09 L594.58,381.16 L594.64,381.23 L594.70,381.30 L594.76,381.37 L594.83,381.44 L594.89,381.51 L594.95,381.58 L595.01,381.65 L595.08,381.72 L595.14,381.79 L595.20,381.86 L595.26,381.93 L595.33,382.01 L595.39,382.08 L595.45,382.15 L595.51,382.22 L595.58,382.30 L595.64,382.37 L595.70,382.45 L595.76,382.52 L595.83,382.59 L595.89,382.67 L595.95,382.74 L596.01,382.82 L596.08,382.89 L596.14,382.97 L596.20,383.04 L596.26,383.12 L596.33,383.19 L596.39,383.27 L596.45,383.35 L596.51,383.42 L596.58,383.50 L596.64,383.57 L596.70,383.65 L596.76,383.73 L596.83,383.80 L596.89,383.88 L596.95,383.95 L597.01,384.03 L597.08,384.11 L597.14,384.18 L597.20,384.26 L597.26,384.33 L597.33,384.41 L597.39,384.48 L597.45,384.56 L597.51,384.63 L597.58,384.70 L597.64,384.77 L597.70,384.85 L597.76,384.92 L597.83,384.99 L597.89,385.06 L597.95,385.12 L598.01,385.19 L598.08,385.25 L598.14,385.32 L598.20,385.38 L598.26,385.44 L598.33,385.50 L598.39,385.56 L598.45,385.61 L598.51,385.66 L598.58,385.71 L598.64,385.76 L598.70,385.80 L600.9,385.8" stroke="#440154" stroke-width="3.9" fill="none" stroke-linecap="round" stroke-linejoin="round"/>
<line x1="47.1" y1="450.3" x2="47.1" y2="583.8" stroke="#777" stroke-width="1.2"/>
<line x1="46.5" y1="583.8" x2="206" y2="583.8" stroke="#777" stroke-width="1.2"/>
<line x1="42.1" y1="583.8" x2="47.1" y2="583.8" stroke="#333" stroke-width="1"/>
<text x="37.8" y="586.9" font-size="8.6" fill="#111" font-weight="400" text-anchor="end" >0</text>
<line x1="42.1" y1="539.4" x2="47.1" y2="539.4" stroke="#333" stroke-width="1"/>
<text x="37.8" y="542.5" font-size="8.6" fill="#111" font-weight="400" text-anchor="end" >1000</text>
<line x1="42.1" y1="494.9" x2="47.1" y2="494.9" stroke="#333" stroke-width="1"/>
<text x="37.8" y="498.0" font-size="8.6" fill="#111" font-weight="400" text-anchor="end" >2000</text>
<line x1="42.1" y1="450.5" x2="47.1" y2="450.5" stroke="#333" stroke-width="1"/>
<text x="37.8" y="453.6" font-size="8.6" fill="#111" font-weight="400" text-anchor="end" >3000</text>
<line x1="51.5" y1="583.8" x2="51.5" y2="588.5999999999999" stroke="#333" stroke-width="1"/>
<text x="51.5" y="600.8" font-size="8.6" fill="#111" font-weight="400" text-anchor="middle" >0</text>
<line x1="76.8" y1="583.8" x2="76.8" y2="588.5999999999999" stroke="#333" stroke-width="1"/>
<text x="76.8" y="600.8" font-size="8.6" fill="#111" font-weight="400" text-anchor="middle" >10</text>
<line x1="102.2" y1="583.8" x2="102.2" y2="588.5999999999999" stroke="#333" stroke-width="1"/>
<text x="102.2" y="600.8" font-size="8.6" fill="#111" font-weight="400" text-anchor="middle" >20</text>
<line x1="127.6" y1="583.8" x2="127.6" y2="588.5999999999999" stroke="#333" stroke-width="1"/>
<text x="127.6" y="600.8" font-size="8.6" fill="#111" font-weight="400" text-anchor="middle" >30</text>
<line x1="152.9" y1="583.8" x2="152.9" y2="588.5999999999999" stroke="#333" stroke-width="1"/>
<text x="152.9" y="600.8" font-size="8.6" fill="#111" font-weight="400" text-anchor="middle" >40</text>
<line x1="178.2" y1="583.8" x2="178.2" y2="588.5999999999999" stroke="#333" stroke-width="1"/>
<text x="178.2" y="600.8" font-size="8.6" fill="#111" font-weight="400" text-anchor="middle" >50</text>
<line x1="203.6" y1="583.8" x2="203.6" y2="588.5999999999999" stroke="#333" stroke-width="1"/>
<text x="203.6" y="600.8" font-size="8.6" fill="#111" font-weight="400" text-anchor="middle" >60</text>
<text x="108.3" y="615.1" font-size="10.4" fill="#111" font-weight="400" textLength="36.6" lengthAdjust="spacingAndGlyphs" >Time (h)</text>
<text transform="translate(9.8,517.0) rotate(-90)" font-size="10.2" fill="#111" text-anchor="middle">Radius (<tspan font-style="italic">µm</tspan>)</text>
<text x="13.1" y="436.4" font-size="15.5" font-weight="700" fill="#000">j</text>
<path d="M54.0,583.8 L61.6,581.9 L69.2,576.2 L76.8,569.1 L84.5,563.4 L92.1,557.5 L99.7,551.6 L107.3,545.8 L114.9,539.8 L122.5,533.9 L130.1,528.0 L137.7,522.0 L145.3,516.2 L152.9,510.6 L160.5,504.5 L168.1,498.6 L175.7,492.7 L183.3,486.5 L190.9,480.5 L198.5,474.4" stroke="#1fcfd0" stroke-width="1.9" fill="none" stroke-linejoin="round"/>
<path d="M54.0,583.8 L50.3,581.6 M54.0,583.8 L57.8,581.6 M54.0,583.8 L54.0,588.1" stroke="#1fcfd0" stroke-width="1.6" fill="none"/>
<path d="M61.6,581.9 L57.9,579.8 M61.6,581.9 L65.4,579.8 M61.6,581.9 L61.6,586.2" stroke="#1fcfd0" stroke-width="1.6" fill="none"/>
<path d="M69.2,576.2 L65.5,574.1 M69.2,576.2 L73.0,574.1 M69.2,576.2 L69.2,580.5" stroke="#1fcfd0" stroke-width="1.6" fill="none"/>
<path d="M76.8,569.1 L73.1,567.0 M76.8,569.1 L80.6,567.0 M76.8,569.1 L76.8,573.4" stroke="#1fcfd0" stroke-width="1.6" fill="none"/>
<path d="M84.5,563.4 L80.7,561.2 M84.5,563.4 L88.2,561.2 M84.5,563.4 L84.5,567.7" stroke="#1fcfd0" stroke-width="1.6" fill="none"/>
<path d="M92.1,557.5 L88.3,555.3 M92.1,557.5 L95.8,555.3 M92.1,557.5 L92.1,561.8" stroke="#1fcfd0" stroke-width="1.6" fill="none"/>
<path d="M99.7,551.6 L95.9,549.5 M99.7,551.6 L103.4,549.5 M99.7,551.6 L99.7,555.9" stroke="#1fcfd0" stroke-width="1.6" fill="none"/>
<path d="M107.3,545.8 L103.5,543.6 M107.3,545.8 L111.0,543.6 M107.3,545.8 L107.3,550.1" stroke="#1fcfd0" stroke-width="1.6" fill="none"/>
<path d="M114.9,539.8 L111.1,537.7 M114.9,539.8 L118.6,537.7 M114.9,539.8 L114.9,544.1" stroke="#1fcfd0" stroke-width="1.6" fill="none"/>
<path d="M122.5,533.9 L118.7,531.8 M122.5,533.9 L126.2,531.8 M122.5,533.9 L122.5,538.2" stroke="#1fcfd0" stroke-width="1.6" fill="none"/>
<path d="M130.1,528.0 L126.3,525.8 M130.1,528.0 L133.8,525.8 M130.1,528.0 L130.1,532.3" stroke="#1fcfd0" stroke-width="1.6" fill="none"/>
<path d="M137.7,522.0 L133.9,519.9 M137.7,522.0 L141.4,519.9 M137.7,522.0 L137.7,526.3" stroke="#1fcfd0" stroke-width="1.6" fill="none"/>
<path d="M145.3,516.2 L141.6,514.0 M145.3,516.2 L149.0,514.0 M145.3,516.2 L145.3,520.5" stroke="#1fcfd0" stroke-width="1.6" fill="none"/>
<path d="M152.9,510.6 L149.2,508.4 M152.9,510.6 L156.6,508.4 M152.9,510.6 L152.9,514.9" stroke="#1fcfd0" stroke-width="1.6" fill="none"/>
<path d="M160.5,504.5 L156.8,502.3 M160.5,504.5 L164.2,502.3 M160.5,504.5 L160.5,508.8" stroke="#1fcfd0" stroke-width="1.6" fill="none"/>
<path d="M168.1,498.6 L164.4,496.4 M168.1,498.6 L171.9,496.4 M168.1,498.6 L168.1,502.9" stroke="#1fcfd0" stroke-width="1.6" fill="none"/>
<path d="M175.7,492.7 L172.0,490.6 M175.7,492.7 L179.5,490.6 M175.7,492.7 L175.7,497.0" stroke="#1fcfd0" stroke-width="1.6" fill="none"/>
<path d="M183.3,486.5 L179.6,484.3 M183.3,486.5 L187.1,484.3 M183.3,486.5 L183.3,490.8" stroke="#1fcfd0" stroke-width="1.6" fill="none"/>
<path d="M190.9,480.5 L187.2,478.4 M190.9,480.5 L194.7,478.4 M190.9,480.5 L190.9,484.8" stroke="#1fcfd0" stroke-width="1.6" fill="none"/>
<path d="M198.5,474.4 L194.8,472.3 M198.5,474.4 L202.3,472.3 M198.5,474.4 L198.5,478.7" stroke="#1fcfd0" stroke-width="1.6" fill="none"/>
<path d="M54.0,583.8 L61.6,582.0 L69.2,576.6 L76.8,569.6 L84.5,563.9 L92.1,558.3 L99.7,552.7 L107.3,547.1 L114.9,541.6 L122.5,536.0 L130.1,530.5 L137.7,525.2 L145.3,519.8 L152.9,514.4 L160.5,509.0 L168.1,503.6 L175.7,498.3 L183.3,492.9 L190.9,487.4 L198.5,482.6" stroke="#a3542a" stroke-width="1.9" fill="none" stroke-linejoin="round"/>
<circle cx="54.0" cy="583.8" r="3.4" fill="none" stroke="#a3542a" stroke-width="1.5"/>
<circle cx="61.6" cy="582.0" r="3.4" fill="none" stroke="#a3542a" stroke-width="1.5"/>
<circle cx="69.2" cy="576.6" r="3.4" fill="none" stroke="#a3542a" stroke-width="1.5"/>
<circle cx="76.8" cy="569.6" r="3.4" fill="none" stroke="#a3542a" stroke-width="1.5"/>
<circle cx="84.5" cy="563.9" r="3.4" fill="none" stroke="#a3542a" stroke-width="1.5"/>
<circle cx="92.1" cy="558.3" r="3.4" fill="none" stroke="#a3542a" stroke-width="1.5"/>
<circle cx="99.7" cy="552.7" r="3.4" fill="none" stroke="#a3542a" stroke-width="1.5"/>
<circle cx="107.3" cy="547.1" r="3.4" fill="none" stroke="#a3542a" stroke-width="1.5"/>
<circle cx="114.9" cy="541.6" r="3.4" fill="none" stroke="#a3542a" stroke-width="1.5"/>
<circle cx="122.5" cy="536.0" r="3.4" fill="none" stroke="#a3542a" stroke-width="1.5"/>
<circle cx="130.1" cy="530.5" r="3.4" fill="none" stroke="#a3542a" stroke-width="1.5"/>
<circle cx="137.7" cy="525.2" r="3.4" fill="none" stroke="#a3542a" stroke-width="1.5"/>
<circle cx="145.3" cy="519.8" r="3.4" fill="none" stroke="#a3542a" stroke-width="1.5"/>
<circle cx="152.9" cy="514.4" r="3.4" fill="none" stroke="#a3542a" stroke-width="1.5"/>
<circle cx="160.5" cy="509.0" r="3.4" fill="none" stroke="#a3542a" stroke-width="1.5"/>
<circle cx="168.1" cy="503.6" r="3.4" fill="none" stroke="#a3542a" stroke-width="1.5"/>
<circle cx="175.7" cy="498.3" r="3.4" fill="none" stroke="#a3542a" stroke-width="1.5"/>
<circle cx="183.3" cy="492.9" r="3.4" fill="none" stroke="#a3542a" stroke-width="1.5"/>
<circle cx="190.9" cy="487.4" r="3.4" fill="none" stroke="#a3542a" stroke-width="1.5"/>
<circle cx="198.5" cy="482.6" r="3.4" fill="none" stroke="#a3542a" stroke-width="1.5"/>
<path d="M54.0,583.8 L61.6,582.0 L69.2,576.5 L76.8,569.5 L84.5,563.8 L92.1,558.0 L99.7,552.3 L107.3,546.5 L114.9,540.7 L122.5,534.9 L130.1,529.2 L137.7,523.4 L145.3,517.6 L152.9,512.1 L160.5,506.3 L168.1,500.3 L175.7,494.5 L183.3,488.5 L190.9,482.6 L198.5,476.8" stroke="#111" stroke-width="2.1" fill="none" stroke-linejoin="round"/>
<path d="M54.0,583.8 L50.3,585.9 M54.0,583.8 L57.8,585.9 M54.0,583.8 L54.0,579.5" stroke="#111" stroke-width="1.6" fill="none"/>
<path d="M61.6,582.0 L57.9,584.2 M61.6,582.0 L65.4,584.2 M61.6,582.0 L61.6,577.7" stroke="#111" stroke-width="1.6" fill="none"/>
<path d="M69.2,576.5 L65.5,578.6 M69.2,576.5 L73.0,578.6 M69.2,576.5 L69.2,572.2" stroke="#111" stroke-width="1.6" fill="none"/>
<path d="M76.8,569.5 L73.1,571.6 M76.8,569.5 L80.6,571.6 M76.8,569.5 L76.8,565.2" stroke="#111" stroke-width="1.6" fill="none"/>
<path d="M84.5,563.8 L80.7,566.0 M84.5,563.8 L88.2,566.0 M84.5,563.8 L84.5,559.5" stroke="#111" stroke-width="1.6" fill="none"/>
<path d="M92.1,558.0 L88.3,560.2 M92.1,558.0 L95.8,560.2 M92.1,558.0 L92.1,553.7" stroke="#111" stroke-width="1.6" fill="none"/>
<path d="M99.7,552.3 L95.9,554.4 M99.7,552.3 L103.4,554.4 M99.7,552.3 L99.7,548.0" stroke="#111" stroke-width="1.6" fill="none"/>
<path d="M107.3,546.5 L103.5,548.6 M107.3,546.5 L111.0,548.6 M107.3,546.5 L107.3,542.2" stroke="#111" stroke-width="1.6" fill="none"/>
<path d="M114.9,540.7 L111.1,542.9 M114.9,540.7 L118.6,542.9 M114.9,540.7 L114.9,536.4" stroke="#111" stroke-width="1.6" fill="none"/>
<path d="M122.5,534.9 L118.7,537.1 M122.5,534.9 L126.2,537.1 M122.5,534.9 L122.5,530.6" stroke="#111" stroke-width="1.6" fill="none"/>
<path d="M130.1,529.2 L126.3,531.3 M130.1,529.2 L133.8,531.3 M130.1,529.2 L130.1,524.9" stroke="#111" stroke-width="1.6" fill="none"/>
<path d="M137.7,523.4 L133.9,525.5 M137.7,523.4 L141.4,525.5 M137.7,523.4 L137.7,519.1" stroke="#111" stroke-width="1.6" fill="none"/>
<path d="M145.3,517.6 L141.6,519.7 M145.3,517.6 L149.0,519.7 M145.3,517.6 L145.3,513.3" stroke="#111" stroke-width="1.6" fill="none"/>
<path d="M152.9,512.1 L149.2,514.3 M152.9,512.1 L156.6,514.3 M152.9,512.1 L152.9,507.8" stroke="#111" stroke-width="1.6" fill="none"/>
<path d="M160.5,506.3 L156.8,508.4 M160.5,506.3 L164.2,508.4 M160.5,506.3 L160.5,502.0" stroke="#111" stroke-width="1.6" fill="none"/>
<path d="M168.1,500.3 L164.4,502.4 M168.1,500.3 L171.9,502.4 M168.1,500.3 L168.1,496.0" stroke="#111" stroke-width="1.6" fill="none"/>
<path d="M175.7,494.5 L172.0,496.6 M175.7,494.5 L179.5,496.6 M175.7,494.5 L175.7,490.2" stroke="#111" stroke-width="1.6" fill="none"/>
<path d="M183.3,488.5 L179.6,490.6 M183.3,488.5 L187.1,490.6 M183.3,488.5 L183.3,484.2" stroke="#111" stroke-width="1.6" fill="none"/>
<path d="M190.9,482.6 L187.2,484.8 M190.9,482.6 L194.7,484.8 M190.9,482.6 L190.9,478.3" stroke="#111" stroke-width="1.6" fill="none"/>
<path d="M198.5,476.8 L194.8,479.0 M198.5,476.8 L202.3,479.0 M198.5,476.8 L198.5,472.5" stroke="#111" stroke-width="1.6" fill="none"/>
<line x1="55.1" y1="462.5" x2="76" y2="462.5" stroke="#a3542a" stroke-width="1.6"/>
<circle cx="65.4" cy="462.5" r="3.4" fill="none" stroke="#a3542a" stroke-width="1.5"/>
<text x="82.8" y="465.6" font-size="8.8" fill="#111" font-weight="400" textLength="59.5" lengthAdjust="spacingAndGlyphs" >10 mM glucose</text>
<line x1="55.1" y1="475.4" x2="76" y2="475.4" stroke="#1fcfd0" stroke-width="1.6"/>
<path d="M65.4,475.4 L61.7,473.2 M65.4,475.4 L69.1,473.2 M65.4,475.4 L65.4,479.7" stroke="#1fcfd0" stroke-width="1.6" fill="none"/>
<text x="82.8" y="478.5" font-size="8.8" fill="#111" font-weight="400" textLength="59.5" lengthAdjust="spacingAndGlyphs" >20 mM glucose</text>
<line x1="55.1" y1="488.5" x2="76" y2="488.5" stroke="#111" stroke-width="1.6"/>
<path d="M65.4,488.5 L61.7,490.6 M65.4,488.5 L69.1,490.6 M65.4,488.5 L65.4,484.2" stroke="#111" stroke-width="1.6" fill="none"/>
<text x="82.8" y="491.6" font-size="8.8" fill="#111" font-weight="400" textLength="59.5" lengthAdjust="spacingAndGlyphs" >30 mM glucose</text>
<line x1="285.4" y1="450.3" x2="285.4" y2="583.8" stroke="#777" stroke-width="1.2"/>
<line x1="284.79999999999995" y1="583.8" x2="444.4" y2="583.8" stroke="#777" stroke-width="1.2"/>
<line x1="280.4" y1="583.8" x2="285.4" y2="583.8" stroke="#333" stroke-width="1"/>
<text x="276.6" y="586.9" font-size="8.6" fill="#111" font-weight="400" text-anchor="end" >0</text>
<line x1="280.4" y1="551.1" x2="285.4" y2="551.1" stroke="#333" stroke-width="1"/>
<text x="276.6" y="554.2" font-size="8.6" fill="#111" font-weight="400" text-anchor="end" >100</text>
<line x1="280.4" y1="518.5" x2="285.4" y2="518.5" stroke="#333" stroke-width="1"/>
<text x="276.6" y="521.6" font-size="8.6" fill="#111" font-weight="400" text-anchor="end" >200</text>
<line x1="280.4" y1="485.8" x2="285.4" y2="485.8" stroke="#333" stroke-width="1"/>
<text x="276.6" y="488.9" font-size="8.6" fill="#111" font-weight="400" text-anchor="end" >300</text>
<line x1="280.4" y1="453.2" x2="285.4" y2="453.2" stroke="#333" stroke-width="1"/>
<text x="276.6" y="456.3" font-size="8.6" fill="#111" font-weight="400" text-anchor="end" >400</text>
<line x1="289.9" y1="583.8" x2="289.9" y2="588.5999999999999" stroke="#333" stroke-width="1"/>
<text x="289.9" y="600.8" font-size="8.6" fill="#111" font-weight="400" text-anchor="middle" >0</text>
<line x1="315.2" y1="583.8" x2="315.2" y2="588.5999999999999" stroke="#333" stroke-width="1"/>
<text x="315.2" y="600.8" font-size="8.6" fill="#111" font-weight="400" text-anchor="middle" >10</text>
<line x1="340.4" y1="583.8" x2="340.4" y2="588.5999999999999" stroke="#333" stroke-width="1"/>
<text x="340.4" y="600.8" font-size="8.6" fill="#111" font-weight="400" text-anchor="middle" >20</text>
<line x1="365.7" y1="583.8" x2="365.7" y2="588.5999999999999" stroke="#333" stroke-width="1"/>
<text x="365.7" y="600.8" font-size="8.6" fill="#111" font-weight="400" text-anchor="middle" >30</text>
<line x1="391.0" y1="583.8" x2="391.0" y2="588.5999999999999" stroke="#333" stroke-width="1"/>
<text x="391.0" y="600.8" font-size="8.6" fill="#111" font-weight="400" text-anchor="middle" >40</text>
<line x1="416.2" y1="583.8" x2="416.2" y2="588.5999999999999" stroke="#333" stroke-width="1"/>
<text x="416.2" y="600.8" font-size="8.6" fill="#111" font-weight="400" text-anchor="middle" >50</text>
<line x1="441.5" y1="583.8" x2="441.5" y2="588.5999999999999" stroke="#333" stroke-width="1"/>
<text x="441.5" y="600.8" font-size="8.6" fill="#111" font-weight="400" text-anchor="middle" >60</text>
<text x="346.4" y="615.1" font-size="10.4" fill="#111" font-weight="400" textLength="36.6" lengthAdjust="spacingAndGlyphs" >Time (h)</text>
<text transform="translate(253,517.0) rotate(-90)" font-size="10.2" fill="#111" text-anchor="middle">Height (<tspan font-style="italic">µm</tspan>)</text>
<text x="248.3" y="437.8" font-size="15.5" font-weight="700" fill="#000">k</text>
<path d="M292.4,582.8 L300.0,582.8 L307.6,582.2 L315.2,567.1 L322.8,558.3 L330.3,553.8 L337.9,549.8 L345.5,546.2 L353.1,543.3 L360.7,540.7 L368.2,538.1 L375.8,535.8 L383.4,533.8 L391.0,531.9 L398.6,530.2 L406.1,528.6 L413.7,527.3 L421.3,526.0 L428.9,525.0 L436.5,524.0" stroke="#a3542a" stroke-width="1.9" fill="none" stroke-linejoin="round"/>
<circle cx="292.4" cy="582.8" r="3.4" fill="none" stroke="#a3542a" stroke-width="1.5"/>
<circle cx="300.0" cy="582.8" r="3.4" fill="none" stroke="#a3542a" stroke-width="1.5"/>
<circle cx="307.6" cy="582.2" r="3.4" fill="none" stroke="#a3542a" stroke-width="1.5"/>
<circle cx="315.2" cy="567.1" r="3.4" fill="none" stroke="#a3542a" stroke-width="1.5"/>
<circle cx="322.8" cy="558.3" r="3.4" fill="none" stroke="#a3542a" stroke-width="1.5"/>
<circle cx="330.3" cy="553.8" r="3.4" fill="none" stroke="#a3542a" stroke-width="1.5"/>
<circle cx="337.9" cy="549.8" r="3.4" fill="none" stroke="#a3542a" stroke-width="1.5"/>
<circle cx="345.5" cy="546.2" r="3.4" fill="none" stroke="#a3542a" stroke-width="1.5"/>
<circle cx="353.1" cy="543.3" r="3.4" fill="none" stroke="#a3542a" stroke-width="1.5"/>
<circle cx="360.7" cy="540.7" r="3.4" fill="none" stroke="#a3542a" stroke-width="1.5"/>
<circle cx="368.2" cy="538.1" r="3.4" fill="none" stroke="#a3542a" stroke-width="1.5"/>
<circle cx="375.8" cy="535.8" r="3.4" fill="none" stroke="#a3542a" stroke-width="1.5"/>
<circle cx="383.4" cy="533.8" r="3.4" fill="none" stroke="#a3542a" stroke-width="1.5"/>
<circle cx="391.0" cy="531.9" r="3.4" fill="none" stroke="#a3542a" stroke-width="1.5"/>
<circle cx="398.6" cy="530.2" r="3.4" fill="none" stroke="#a3542a" stroke-width="1.5"/>
<circle cx="406.1" cy="528.6" r="3.4" fill="none" stroke="#a3542a" stroke-width="1.5"/>
<circle cx="413.7" cy="527.3" r="3.4" fill="none" stroke="#a3542a" stroke-width="1.5"/>
<circle cx="421.3" cy="526.0" r="3.4" fill="none" stroke="#a3542a" stroke-width="1.5"/>
<circle cx="428.9" cy="525.0" r="3.4" fill="none" stroke="#a3542a" stroke-width="1.5"/>
<circle cx="436.5" cy="524.0" r="3.4" fill="none" stroke="#a3542a" stroke-width="1.5"/>
<path d="M292.4,582.8 L300.0,582.8 L307.6,582.2 L315.2,565.8 L322.8,550.5 L330.3,540.7 L337.9,533.2 L345.5,527.0 L353.1,521.7 L360.7,517.2 L368.2,513.3 L375.8,509.7 L383.4,506.4 L391.0,503.5 L398.6,500.5 L406.1,497.6 L413.7,494.6 L421.3,492.0 L428.9,489.7 L436.5,487.1" stroke="#1fcfd0" stroke-width="1.9" fill="none" stroke-linejoin="round"/>
<path d="M292.4,582.8 L288.7,580.7 M292.4,582.8 L296.2,580.7 M292.4,582.8 L292.4,587.1" stroke="#1fcfd0" stroke-width="1.6" fill="none"/>
<path d="M300.0,582.8 L296.3,580.7 M300.0,582.8 L303.7,580.7 M300.0,582.8 L300.0,587.1" stroke="#1fcfd0" stroke-width="1.6" fill="none"/>
<path d="M307.6,582.2 L303.8,580.0 M307.6,582.2 L311.3,580.0 M307.6,582.2 L307.6,586.5" stroke="#1fcfd0" stroke-width="1.6" fill="none"/>
<path d="M315.2,565.8 L311.4,563.7 M315.2,565.8 L318.9,563.7 M315.2,565.8 L315.2,570.1" stroke="#1fcfd0" stroke-width="1.6" fill="none"/>
<path d="M322.8,550.5 L319.0,548.3 M322.8,550.5 L326.5,548.3 M322.8,550.5 L322.8,554.8" stroke="#1fcfd0" stroke-width="1.6" fill="none"/>
<path d="M330.3,540.7 L326.6,538.5 M330.3,540.7 L334.1,538.5 M330.3,540.7 L330.3,545.0" stroke="#1fcfd0" stroke-width="1.6" fill="none"/>
<path d="M337.9,533.2 L334.2,531.0 M337.9,533.2 L341.7,531.0 M337.9,533.2 L337.9,537.5" stroke="#1fcfd0" stroke-width="1.6" fill="none"/>
<path d="M345.5,527.0 L341.8,524.8 M345.5,527.0 L349.2,524.8 M345.5,527.0 L345.5,531.3" stroke="#1fcfd0" stroke-width="1.6" fill="none"/>
<path d="M353.1,521.7 L349.3,519.6 M353.1,521.7 L356.8,519.6 M353.1,521.7 L353.1,526.0" stroke="#1fcfd0" stroke-width="1.6" fill="none"/>
<path d="M360.7,517.2 L356.9,515.0 M360.7,517.2 L364.4,515.0 M360.7,517.2 L360.7,521.5" stroke="#1fcfd0" stroke-width="1.6" fill="none"/>
<path d="M368.2,513.3 L364.5,511.1 M368.2,513.3 L372.0,511.1 M368.2,513.3 L368.2,517.6" stroke="#1fcfd0" stroke-width="1.6" fill="none"/>
<path d="M375.8,509.7 L372.1,507.5 M375.8,509.7 L379.6,507.5 M375.8,509.7 L375.8,514.0" stroke="#1fcfd0" stroke-width="1.6" fill="none"/>
<path d="M383.4,506.4 L379.7,504.2 M383.4,506.4 L387.1,504.2 M383.4,506.4 L383.4,510.7" stroke="#1fcfd0" stroke-width="1.6" fill="none"/>
<path d="M391.0,503.5 L387.2,501.3 M391.0,503.5 L394.7,501.3 M391.0,503.5 L391.0,507.8" stroke="#1fcfd0" stroke-width="1.6" fill="none"/>
<path d="M398.6,500.5 L394.8,498.4 M398.6,500.5 L402.3,498.4 M398.6,500.5 L398.6,504.8" stroke="#1fcfd0" stroke-width="1.6" fill="none"/>
<path d="M406.1,497.6 L402.4,495.4 M406.1,497.6 L409.9,495.4 M406.1,497.6 L406.1,501.9" stroke="#1fcfd0" stroke-width="1.6" fill="none"/>
<path d="M413.7,494.6 L410.0,492.5 M413.7,494.6 L417.5,492.5 M413.7,494.6 L413.7,498.9" stroke="#1fcfd0" stroke-width="1.6" fill="none"/>
<path d="M421.3,492.0 L417.6,489.9 M421.3,492.0 L425.0,489.9 M421.3,492.0 L421.3,496.3" stroke="#1fcfd0" stroke-width="1.6" fill="none"/>
<path d="M428.9,489.7 L425.1,487.6 M428.9,489.7 L432.6,487.6 M428.9,489.7 L428.9,494.0" stroke="#1fcfd0" stroke-width="1.6" fill="none"/>
<path d="M436.5,487.1 L432.7,485.0 M436.5,487.1 L440.2,485.0 M436.5,487.1 L436.5,491.4" stroke="#1fcfd0" stroke-width="1.6" fill="none"/>
<path d="M292.4,582.8 L300.0,582.8 L307.6,582.2 L315.2,569.1 L322.8,542.0 L330.3,527.0 L337.9,516.2 L345.5,507.4 L353.1,499.9 L360.7,493.7 L368.2,488.4 L375.8,483.5 L383.4,479.0 L391.0,475.0 L398.6,471.1 L406.1,467.5 L413.7,464.3 L421.3,461.0 L428.9,458.1 L436.5,455.4" stroke="#111" stroke-width="2.1" fill="none" stroke-linejoin="round"/>
<path d="M292.4,582.8 L288.7,585.0 M292.4,582.8 L296.2,585.0 M292.4,582.8 L292.4,578.5" stroke="#111" stroke-width="1.6" fill="none"/>
<path d="M300.0,582.8 L296.3,585.0 M300.0,582.8 L303.7,585.0 M300.0,582.8 L300.0,578.5" stroke="#111" stroke-width="1.6" fill="none"/>
<path d="M307.6,582.2 L303.8,584.3 M307.6,582.2 L311.3,584.3 M307.6,582.2 L307.6,577.9" stroke="#111" stroke-width="1.6" fill="none"/>
<path d="M315.2,569.1 L311.4,571.3 M315.2,569.1 L318.9,571.3 M315.2,569.1 L315.2,564.8" stroke="#111" stroke-width="1.6" fill="none"/>
<path d="M322.8,542.0 L319.0,544.1 M322.8,542.0 L326.5,544.1 M322.8,542.0 L322.8,537.7" stroke="#111" stroke-width="1.6" fill="none"/>
<path d="M330.3,527.0 L326.6,529.1 M330.3,527.0 L334.1,529.1 M330.3,527.0 L330.3,522.7" stroke="#111" stroke-width="1.6" fill="none"/>
<path d="M337.9,516.2 L334.2,518.3 M337.9,516.2 L341.7,518.3 M337.9,516.2 L337.9,511.9" stroke="#111" stroke-width="1.6" fill="none"/>
<path d="M345.5,507.4 L341.8,509.5 M345.5,507.4 L349.2,509.5 M345.5,507.4 L345.5,503.1" stroke="#111" stroke-width="1.6" fill="none"/>
<path d="M353.1,499.9 L349.3,502.0 M353.1,499.9 L356.8,502.0 M353.1,499.9 L353.1,495.6" stroke="#111" stroke-width="1.6" fill="none"/>
<path d="M360.7,493.7 L356.9,495.8 M360.7,493.7 L364.4,495.8 M360.7,493.7 L360.7,489.4" stroke="#111" stroke-width="1.6" fill="none"/>
<path d="M368.2,488.4 L364.5,490.6 M368.2,488.4 L372.0,490.6 M368.2,488.4 L368.2,484.1" stroke="#111" stroke-width="1.6" fill="none"/>
<path d="M375.8,483.5 L372.1,485.7 M375.8,483.5 L379.6,485.7 M375.8,483.5 L375.8,479.2" stroke="#111" stroke-width="1.6" fill="none"/>
<path d="M383.4,479.0 L379.7,481.1 M383.4,479.0 L387.1,481.1 M383.4,479.0 L383.4,474.7" stroke="#111" stroke-width="1.6" fill="none"/>
<path d="M391.0,475.0 L387.2,477.2 M391.0,475.0 L394.7,477.2 M391.0,475.0 L391.0,470.7" stroke="#111" stroke-width="1.6" fill="none"/>
<path d="M398.6,471.1 L394.8,473.3 M398.6,471.1 L402.3,473.3 M398.6,471.1 L398.6,466.8" stroke="#111" stroke-width="1.6" fill="none"/>
<path d="M406.1,467.5 L402.4,469.7 M406.1,467.5 L409.9,469.7 M406.1,467.5 L406.1,463.2" stroke="#111" stroke-width="1.6" fill="none"/>
<path d="M413.7,464.3 L410.0,466.4 M413.7,464.3 L417.5,466.4 M413.7,464.3 L413.7,460.0" stroke="#111" stroke-width="1.6" fill="none"/>
<path d="M421.3,461.0 L417.6,463.1 M421.3,461.0 L425.0,463.1 M421.3,461.0 L421.3,456.7" stroke="#111" stroke-width="1.6" fill="none"/>
<path d="M428.9,458.1 L425.1,460.2 M428.9,458.1 L432.6,460.2 M428.9,458.1 L428.9,453.8" stroke="#111" stroke-width="1.6" fill="none"/>
<path d="M436.5,455.4 L432.7,457.6 M436.5,455.4 L440.2,457.6 M436.5,455.4 L436.5,451.1" stroke="#111" stroke-width="1.6" fill="none"/>
<line x1="523.4" y1="450.3" x2="523.4" y2="583.9" stroke="#777" stroke-width="1.2"/>
<line x1="522.8" y1="583.9" x2="681.6" y2="583.9" stroke="#777" stroke-width="1.2"/>
<line x1="518.4" y1="578.4" x2="523.4" y2="578.4" stroke="#333" stroke-width="1"/>
<text x="514.6" y="581.5" font-size="8.6" fill="#111" font-weight="400" text-anchor="end" >0</text>
<line x1="518.4" y1="544.8" x2="523.4" y2="544.8" stroke="#333" stroke-width="1"/>
<text x="514.6" y="547.9" font-size="8.6" fill="#111" font-weight="400" text-anchor="end" >100000</text>
<line x1="518.4" y1="511.2" x2="523.4" y2="511.2" stroke="#333" stroke-width="1"/>
<text x="514.6" y="514.3" font-size="8.6" fill="#111" font-weight="400" text-anchor="end" >200000</text>
<line x1="518.4" y1="477.6" x2="523.4" y2="477.6" stroke="#333" stroke-width="1"/>
<text x="514.6" y="480.7" font-size="8.6" fill="#111" font-weight="400" text-anchor="end" >300000</text>
<line x1="528.5" y1="583.9" x2="528.5" y2="588.6999999999999" stroke="#333" stroke-width="1"/>
<text x="528.5" y="600.9" font-size="8.6" fill="#111" font-weight="400" text-anchor="middle" >0</text>
<line x1="553.6" y1="583.9" x2="553.6" y2="588.6999999999999" stroke="#333" stroke-width="1"/>
<text x="553.6" y="600.9" font-size="8.6" fill="#111" font-weight="400" text-anchor="middle" >10</text>
<line x1="578.8" y1="583.9" x2="578.8" y2="588.6999999999999" stroke="#333" stroke-width="1"/>
<text x="578.8" y="600.9" font-size="8.6" fill="#111" font-weight="400" text-anchor="middle" >20</text>
<line x1="603.9" y1="583.9" x2="603.9" y2="588.6999999999999" stroke="#333" stroke-width="1"/>
<text x="603.9" y="600.9" font-size="8.6" fill="#111" font-weight="400" text-anchor="middle" >30</text>
<line x1="629.0" y1="583.9" x2="629.0" y2="588.6999999999999" stroke="#333" stroke-width="1"/>
<text x="629.0" y="600.9" font-size="8.6" fill="#111" font-weight="400" text-anchor="middle" >40</text>
<line x1="654.1" y1="583.9" x2="654.1" y2="588.6999999999999" stroke="#333" stroke-width="1"/>
<text x="654.1" y="600.9" font-size="8.6" fill="#111" font-weight="400" text-anchor="middle" >50</text>
<line x1="679.3" y1="583.9" x2="679.3" y2="588.6999999999999" stroke="#333" stroke-width="1"/>
<text x="679.3" y="600.9" font-size="8.6" fill="#111" font-weight="400" text-anchor="middle" >60</text>
<text x="584.6" y="615.2" font-size="10.4" fill="#111" font-weight="400" textLength="36.6" lengthAdjust="spacingAndGlyphs" >Time (h)</text>
<text transform="translate(477.6,517.1) rotate(-90)" font-size="10.2" fill="#111" text-anchor="middle">Number of cells</text>
<text x="471.2" y="437.8" font-size="15.5" font-weight="700" fill="#000">l</text>
<path d="M531.0,578.4 L538.6,578.4 L546.1,578.4 L553.6,577.7 L561.2,575.4 L568.7,572.4 L576.2,568.7 L583.8,565.0 L591.3,561.6 L598.9,557.9 L606.4,554.2 L613.9,550.5 L621.5,546.8 L629.0,542.4 L636.6,538.8 L644.1,534.7 L651.6,530.7 L659.2,526.3 L666.7,523.0 L674.3,519.6" stroke="#a3542a" stroke-width="1.9" fill="none" stroke-linejoin="round"/>
<circle cx="531.0" cy="578.4" r="3.4" fill="none" stroke="#a3542a" stroke-width="1.5"/>
<circle cx="538.6" cy="578.4" r="3.4" fill="none" stroke="#a3542a" stroke-width="1.5"/>
<circle cx="546.1" cy="578.4" r="3.4" fill="none" stroke="#a3542a" stroke-width="1.5"/>
<circle cx="553.6" cy="577.7" r="3.4" fill="none" stroke="#a3542a" stroke-width="1.5"/>
<circle cx="561.2" cy="575.4" r="3.4" fill="none" stroke="#a3542a" stroke-width="1.5"/>
<circle cx="568.7" cy="572.4" r="3.4" fill="none" stroke="#a3542a" stroke-width="1.5"/>
<circle cx="576.2" cy="568.7" r="3.4" fill="none" stroke="#a3542a" stroke-width="1.5"/>
<circle cx="583.8" cy="565.0" r="3.4" fill="none" stroke="#a3542a" stroke-width="1.5"/>
<circle cx="591.3" cy="561.6" r="3.4" fill="none" stroke="#a3542a" stroke-width="1.5"/>
<circle cx="598.9" cy="557.9" r="3.4" fill="none" stroke="#a3542a" stroke-width="1.5"/>
<circle cx="606.4" cy="554.2" r="3.4" fill="none" stroke="#a3542a" stroke-width="1.5"/>
<circle cx="613.9" cy="550.5" r="3.4" fill="none" stroke="#a3542a" stroke-width="1.5"/>
<circle cx="621.5" cy="546.8" r="3.4" fill="none" stroke="#a3542a" stroke-width="1.5"/>
<circle cx="629.0" cy="542.4" r="3.4" fill="none" stroke="#a3542a" stroke-width="1.5"/>
<circle cx="636.6" cy="538.8" r="3.4" fill="none" stroke="#a3542a" stroke-width="1.5"/>
<circle cx="644.1" cy="534.7" r="3.4" fill="none" stroke="#a3542a" stroke-width="1.5"/>
<circle cx="651.6" cy="530.7" r="3.4" fill="none" stroke="#a3542a" stroke-width="1.5"/>
<circle cx="659.2" cy="526.3" r="3.4" fill="none" stroke="#a3542a" stroke-width="1.5"/>
<circle cx="666.7" cy="523.0" r="3.4" fill="none" stroke="#a3542a" stroke-width="1.5"/>
<circle cx="674.3" cy="519.6" r="3.4" fill="none" stroke="#a3542a" stroke-width="1.5"/>
<path d="M531.0,578.4 L538.6,578.4 L546.1,578.4 L553.6,576.7 L561.2,573.0 L568.7,568.7 L576.2,564.0 L583.8,558.9 L591.3,553.5 L598.9,547.8 L606.4,542.1 L613.9,536.4 L621.5,530.4 L629.0,524.3 L636.6,518.3 L644.1,512.2 L651.6,506.2 L659.2,500.1 L666.7,494.4 L674.3,488.7" stroke="#1fcfd0" stroke-width="1.9" fill="none" stroke-linejoin="round"/>
<path d="M531.0,578.4 L527.3,576.2 M531.0,578.4 L534.8,576.2 M531.0,578.4 L531.0,582.7" stroke="#1fcfd0" stroke-width="1.6" fill="none"/>
<path d="M538.6,578.4 L534.8,576.2 M538.6,578.4 L542.3,576.2 M538.6,578.4 L538.6,582.7" stroke="#1fcfd0" stroke-width="1.6" fill="none"/>
<path d="M546.1,578.4 L542.4,576.2 M546.1,578.4 L549.8,576.2 M546.1,578.4 L546.1,582.7" stroke="#1fcfd0" stroke-width="1.6" fill="none"/>
<path d="M553.6,576.7 L549.9,574.6 M553.6,576.7 L557.4,574.6 M553.6,576.7 L553.6,581.0" stroke="#1fcfd0" stroke-width="1.6" fill="none"/>
<path d="M561.2,573.0 L557.4,570.9 M561.2,573.0 L564.9,570.9 M561.2,573.0 L561.2,577.3" stroke="#1fcfd0" stroke-width="1.6" fill="none"/>
<path d="M568.7,568.7 L565.0,566.5 M568.7,568.7 L572.4,566.5 M568.7,568.7 L568.7,573.0" stroke="#1fcfd0" stroke-width="1.6" fill="none"/>
<path d="M576.2,564.0 L572.5,561.8 M576.2,564.0 L580.0,561.8 M576.2,564.0 L576.2,568.3" stroke="#1fcfd0" stroke-width="1.6" fill="none"/>
<path d="M583.8,558.9 L580.0,556.8 M583.8,558.9 L587.5,556.8 M583.8,558.9 L583.8,563.2" stroke="#1fcfd0" stroke-width="1.6" fill="none"/>
<path d="M591.3,553.5 L587.6,551.4 M591.3,553.5 L595.1,551.4 M591.3,553.5 L591.3,557.8" stroke="#1fcfd0" stroke-width="1.6" fill="none"/>
<path d="M598.9,547.8 L595.1,545.7 M598.9,547.8 L602.6,545.7 M598.9,547.8 L598.9,552.1" stroke="#1fcfd0" stroke-width="1.6" fill="none"/>
<path d="M606.4,542.1 L602.7,540.0 M606.4,542.1 L610.1,540.0 M606.4,542.1 L606.4,546.4" stroke="#1fcfd0" stroke-width="1.6" fill="none"/>
<path d="M613.9,536.4 L610.2,534.2 M613.9,536.4 L617.7,534.2 M613.9,536.4 L613.9,540.7" stroke="#1fcfd0" stroke-width="1.6" fill="none"/>
<path d="M621.5,530.4 L617.7,528.2 M621.5,530.4 L625.2,528.2 M621.5,530.4 L621.5,534.7" stroke="#1fcfd0" stroke-width="1.6" fill="none"/>
<path d="M629.0,524.3 L625.3,522.2 M629.0,524.3 L632.8,522.2 M629.0,524.3 L629.0,528.6" stroke="#1fcfd0" stroke-width="1.6" fill="none"/>
<path d="M636.6,518.3 L632.8,516.1 M636.6,518.3 L640.3,516.1 M636.6,518.3 L636.6,522.6" stroke="#1fcfd0" stroke-width="1.6" fill="none"/>
<path d="M644.1,512.2 L640.4,510.1 M644.1,512.2 L647.8,510.1 M644.1,512.2 L644.1,516.5" stroke="#1fcfd0" stroke-width="1.6" fill="none"/>
<path d="M651.6,506.2 L647.9,504.0 M651.6,506.2 L655.4,504.0 M651.6,506.2 L651.6,510.5" stroke="#1fcfd0" stroke-width="1.6" fill="none"/>
<path d="M659.2,500.1 L655.4,498.0 M659.2,500.1 L662.9,498.0 M659.2,500.1 L659.2,504.4" stroke="#1fcfd0" stroke-width="1.6" fill="none"/>
<path d="M666.7,494.4 L663.0,492.2 M666.7,494.4 L670.5,492.2 M666.7,494.4 L666.7,498.7" stroke="#1fcfd0" stroke-width="1.6" fill="none"/>
<path d="M674.3,488.7 L670.5,486.5 M674.3,488.7 L678.0,486.5 M674.3,488.7 L674.3,493.0" stroke="#1fcfd0" stroke-width="1.6" fill="none"/>
<path d="M531.0,578.4 L538.6,578.4 L546.1,578.4 L553.6,577.4 L561.2,571.7 L568.7,565.0 L576.2,558.2 L583.8,551.2 L591.3,543.8 L598.9,536.4 L606.4,528.7 L613.9,520.6 L621.5,512.5 L629.0,504.5 L636.6,496.4 L644.1,488.0 L651.6,479.6 L659.2,471.6 L666.7,463.5 L674.3,455.8" stroke="#111" stroke-width="2.1" fill="none" stroke-linejoin="round"/>
<path d="M531.0,578.4 L527.3,580.5 M531.0,578.4 L534.8,580.5 M531.0,578.4 L531.0,574.1" stroke="#111" stroke-width="1.6" fill="none"/>
<path d="M538.6,578.4 L534.8,580.5 M538.6,578.4 L542.3,580.5 M538.6,578.4 L538.6,574.1" stroke="#111" stroke-width="1.6" fill="none"/>
<path d="M546.1,578.4 L542.4,580.5 M546.1,578.4 L549.8,580.5 M546.1,578.4 L546.1,574.1" stroke="#111" stroke-width="1.6" fill="none"/>
<path d="M553.6,577.4 L549.9,579.5 M553.6,577.4 L557.4,579.5 M553.6,577.4 L553.6,573.1" stroke="#111" stroke-width="1.6" fill="none"/>
<path d="M561.2,571.7 L557.4,573.8 M561.2,571.7 L564.9,573.8 M561.2,571.7 L561.2,567.4" stroke="#111" stroke-width="1.6" fill="none"/>
<path d="M568.7,565.0 L565.0,567.1 M568.7,565.0 L572.4,567.1 M568.7,565.0 L568.7,560.7" stroke="#111" stroke-width="1.6" fill="none"/>
<path d="M576.2,558.2 L572.5,560.4 M576.2,558.2 L580.0,560.4 M576.2,558.2 L576.2,553.9" stroke="#111" stroke-width="1.6" fill="none"/>
<path d="M583.8,551.2 L580.0,553.3 M583.8,551.2 L587.5,553.3 M583.8,551.2 L583.8,546.9" stroke="#111" stroke-width="1.6" fill="none"/>
<path d="M591.3,543.8 L587.6,545.9 M591.3,543.8 L595.1,545.9 M591.3,543.8 L591.3,539.5" stroke="#111" stroke-width="1.6" fill="none"/>
<path d="M598.9,536.4 L595.1,538.5 M598.9,536.4 L602.6,538.5 M598.9,536.4 L598.9,532.1" stroke="#111" stroke-width="1.6" fill="none"/>
<path d="M606.4,528.7 L602.7,530.8 M606.4,528.7 L610.1,530.8 M606.4,528.7 L606.4,524.4" stroke="#111" stroke-width="1.6" fill="none"/>
<path d="M613.9,520.6 L610.2,522.8 M613.9,520.6 L617.7,522.8 M613.9,520.6 L613.9,516.3" stroke="#111" stroke-width="1.6" fill="none"/>
<path d="M621.5,512.5 L617.7,514.7 M621.5,512.5 L625.2,514.7 M621.5,512.5 L621.5,508.2" stroke="#111" stroke-width="1.6" fill="none"/>
<path d="M629.0,504.5 L625.3,506.6 M629.0,504.5 L632.8,506.6 M629.0,504.5 L629.0,500.2" stroke="#111" stroke-width="1.6" fill="none"/>
<path d="M636.6,496.4 L632.8,498.6 M636.6,496.4 L640.3,498.6 M636.6,496.4 L636.6,492.1" stroke="#111" stroke-width="1.6" fill="none"/>
<path d="M644.1,488.0 L640.4,490.2 M644.1,488.0 L647.8,490.2 M644.1,488.0 L644.1,483.7" stroke="#111" stroke-width="1.6" fill="none"/>
<path d="M651.6,479.6 L647.9,481.8 M651.6,479.6 L655.4,481.8 M651.6,479.6 L651.6,475.3" stroke="#111" stroke-width="1.6" fill="none"/>
<path d="M659.2,471.6 L655.4,473.7 M659.2,471.6 L662.9,473.7 M659.2,471.6 L659.2,467.3" stroke="#111" stroke-width="1.6" fill="none"/>
<path d="M666.7,463.5 L663.0,465.6 M666.7,463.5 L670.5,465.6 M666.7,463.5 L666.7,459.2" stroke="#111" stroke-width="1.6" fill="none"/>
<path d="M674.3,455.8 L670.5,457.9 M674.3,455.8 L678.0,457.9 M674.3,455.8 L674.3,451.5" stroke="#111" stroke-width="1.6" fill="none"/>
</svg>
</body></html>
